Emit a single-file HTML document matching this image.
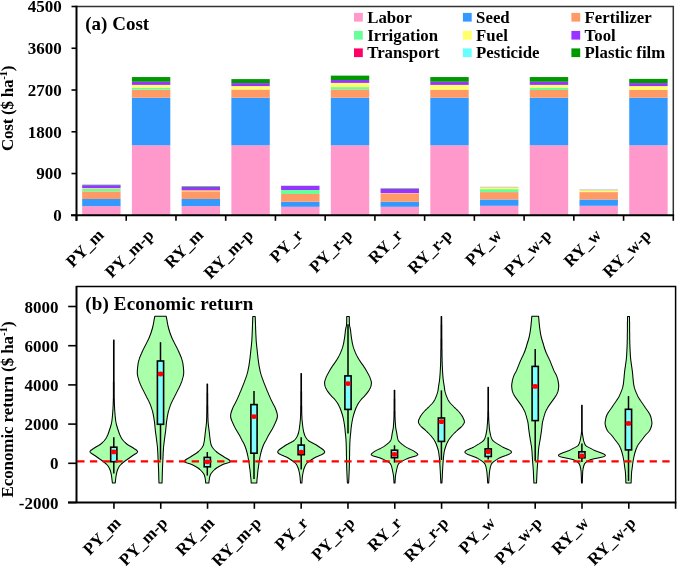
<!DOCTYPE html>
<html><head><meta charset="utf-8"><style>
html,body{margin:0;padding:0;background:#fff;width:685px;height:566px;overflow:hidden;position:relative}
</style></head><body>
<svg width="685" height="566" viewBox="0 0 685 566" style="position:absolute;left:0;top:0;will-change:transform">
<rect width="685" height="566" fill="#fff"/>
<rect x="82.17" y="206.10" width="38.40" height="9.20" fill="#FF99CC"/>
<rect x="82.17" y="199.00" width="38.40" height="7.10" fill="#3399FF"/>
<rect x="82.17" y="191.40" width="38.40" height="7.60" fill="#FF9966"/>
<rect x="82.17" y="189.00" width="38.40" height="2.40" fill="#66FF99"/>
<rect x="82.17" y="188.20" width="38.40" height="0.80" fill="#FFFF66"/>
<rect x="82.17" y="185.10" width="38.40" height="3.10" fill="#9933FF"/>
<rect x="82.17" y="184.30" width="38.40" height="0.80" fill="#88DDAA"/>
<rect x="131.90" y="145.30" width="38.40" height="70.00" fill="#FF99CC"/>
<rect x="131.90" y="97.70" width="38.40" height="47.60" fill="#3399FF"/>
<rect x="131.90" y="89.60" width="38.40" height="8.10" fill="#FF9966"/>
<rect x="131.90" y="87.80" width="38.40" height="1.80" fill="#66FF99"/>
<rect x="131.90" y="84.90" width="38.40" height="2.90" fill="#FFFF66"/>
<rect x="131.90" y="81.75" width="38.40" height="3.15" fill="#9933FF"/>
<rect x="131.90" y="77.05" width="38.40" height="4.70" fill="#009900"/>
<rect x="181.63" y="206.10" width="38.40" height="9.20" fill="#FF99CC"/>
<rect x="181.63" y="199.00" width="38.40" height="7.10" fill="#3399FF"/>
<rect x="181.63" y="191.80" width="38.40" height="7.20" fill="#FF9966"/>
<rect x="181.63" y="190.20" width="38.40" height="1.60" fill="#FFBB66"/>
<rect x="181.63" y="187.00" width="38.40" height="3.20" fill="#9933FF"/>
<rect x="181.63" y="186.10" width="38.40" height="0.90" fill="#55BB77"/>
<rect x="231.37" y="145.30" width="38.40" height="70.00" fill="#FF99CC"/>
<rect x="231.37" y="97.70" width="38.40" height="47.60" fill="#3399FF"/>
<rect x="231.37" y="89.50" width="38.40" height="8.20" fill="#FF9966"/>
<rect x="231.37" y="86.10" width="38.40" height="3.40" fill="#FFFF66"/>
<rect x="231.37" y="83.10" width="38.40" height="3.00" fill="#9933FF"/>
<rect x="231.37" y="79.10" width="38.40" height="4.00" fill="#009900"/>
<rect x="281.10" y="206.80" width="38.40" height="8.50" fill="#FF99CC"/>
<rect x="281.10" y="201.70" width="38.40" height="5.10" fill="#3399FF"/>
<rect x="281.10" y="194.00" width="38.40" height="7.70" fill="#FF9966"/>
<rect x="281.10" y="190.00" width="38.40" height="4.00" fill="#66FF99"/>
<rect x="281.10" y="185.60" width="38.40" height="4.40" fill="#9933FF"/>
<rect x="281.10" y="185.00" width="38.40" height="0.60" fill="#CCFFCC"/>
<rect x="330.83" y="145.30" width="38.40" height="70.00" fill="#FF99CC"/>
<rect x="330.83" y="97.70" width="38.40" height="47.60" fill="#3399FF"/>
<rect x="330.83" y="89.40" width="38.40" height="8.30" fill="#FF9966"/>
<rect x="330.83" y="87.10" width="38.40" height="2.30" fill="#66FF99"/>
<rect x="330.83" y="82.90" width="38.40" height="4.20" fill="#FFFF66"/>
<rect x="330.83" y="80.00" width="38.40" height="2.90" fill="#9933FF"/>
<rect x="330.83" y="75.60" width="38.40" height="4.40" fill="#009900"/>
<rect x="330.83" y="75.25" width="38.40" height="0.35" fill="#AADDAA"/>
<rect x="380.57" y="206.80" width="38.40" height="8.50" fill="#FF99CC"/>
<rect x="380.57" y="201.70" width="38.40" height="5.10" fill="#3399FF"/>
<rect x="380.57" y="193.70" width="38.40" height="8.00" fill="#FF9966"/>
<rect x="380.57" y="193.10" width="38.40" height="0.60" fill="#FFBB77"/>
<rect x="380.57" y="188.80" width="38.40" height="4.30" fill="#9933FF"/>
<rect x="380.57" y="188.10" width="38.40" height="0.70" fill="#66AA88"/>
<rect x="430.30" y="145.30" width="38.40" height="70.00" fill="#FF99CC"/>
<rect x="430.30" y="97.70" width="38.40" height="47.60" fill="#3399FF"/>
<rect x="430.30" y="89.60" width="38.40" height="8.10" fill="#FF9966"/>
<rect x="430.30" y="84.90" width="38.40" height="4.70" fill="#FFFF66"/>
<rect x="430.30" y="81.75" width="38.40" height="3.15" fill="#9933FF"/>
<rect x="430.30" y="77.05" width="38.40" height="4.70" fill="#009900"/>
<rect x="480.03" y="205.80" width="38.40" height="9.50" fill="#FF99CC"/>
<rect x="480.03" y="199.50" width="38.40" height="6.30" fill="#3399FF"/>
<rect x="480.03" y="192.10" width="38.40" height="7.40" fill="#FF9966"/>
<rect x="480.03" y="189.10" width="38.40" height="3.00" fill="#66FF99"/>
<rect x="480.03" y="187.50" width="38.40" height="1.60" fill="#FFFF66"/>
<rect x="480.03" y="186.80" width="38.40" height="0.70" fill="#CCAA88"/>
<rect x="529.77" y="145.30" width="38.40" height="70.00" fill="#FF99CC"/>
<rect x="529.77" y="97.70" width="38.40" height="47.60" fill="#3399FF"/>
<rect x="529.77" y="90.00" width="38.40" height="7.70" fill="#FF9966"/>
<rect x="529.77" y="87.80" width="38.40" height="2.20" fill="#66FF99"/>
<rect x="529.77" y="84.90" width="38.40" height="2.90" fill="#FFFF66"/>
<rect x="529.77" y="81.75" width="38.40" height="3.15" fill="#9933FF"/>
<rect x="529.77" y="77.05" width="38.40" height="4.70" fill="#009900"/>
<rect x="579.50" y="205.80" width="38.40" height="9.50" fill="#FF99CC"/>
<rect x="579.50" y="199.50" width="38.40" height="6.30" fill="#3399FF"/>
<rect x="579.50" y="192.10" width="38.40" height="7.40" fill="#FF9966"/>
<rect x="579.50" y="190.50" width="38.40" height="1.60" fill="#FFFF66"/>
<rect x="579.50" y="189.80" width="38.40" height="0.70" fill="#EEBB99"/>
<rect x="579.50" y="189.10" width="38.40" height="0.70" fill="#BBCCEE"/>
<rect x="629.23" y="145.30" width="38.40" height="70.00" fill="#FF99CC"/>
<rect x="629.23" y="97.70" width="38.40" height="47.60" fill="#3399FF"/>
<rect x="629.23" y="89.80" width="38.40" height="7.90" fill="#FF9966"/>
<rect x="629.23" y="86.10" width="38.40" height="3.70" fill="#FFFF66"/>
<rect x="629.23" y="83.10" width="38.40" height="3.00" fill="#9933FF"/>
<rect x="629.23" y="78.90" width="38.40" height="4.20" fill="#009900"/>
<path d="M76.5,6.5 H673.3 V215.3" fill="none" stroke="#333" stroke-width="1.5"/>
<path d="M76.5,5.7 V220.8" stroke="#000" stroke-width="2"/>
<path d="M71.0,215.3 H674.0999999999999" stroke="#000" stroke-width="2"/>
<path d="M71.5,215.30 H76.5" stroke="#000" stroke-width="1.6"/>
<text x="61.8" y="221.10" text-anchor="end" font-family='"Liberation Serif", serif' font-weight="bold" font-size="17">0</text>
<path d="M71.5,173.54 H76.5" stroke="#000" stroke-width="1.6"/>
<text x="61.8" y="179.34" text-anchor="end" font-family='"Liberation Serif", serif' font-weight="bold" font-size="17">900</text>
<path d="M71.5,131.78 H76.5" stroke="#000" stroke-width="1.6"/>
<text x="61.8" y="137.58" text-anchor="end" font-family='"Liberation Serif", serif' font-weight="bold" font-size="17">1800</text>
<path d="M71.5,90.02 H76.5" stroke="#000" stroke-width="1.6"/>
<text x="61.8" y="95.82" text-anchor="end" font-family='"Liberation Serif", serif' font-weight="bold" font-size="17">2700</text>
<path d="M71.5,48.26 H76.5" stroke="#000" stroke-width="1.6"/>
<text x="61.8" y="54.06" text-anchor="end" font-family='"Liberation Serif", serif' font-weight="bold" font-size="17">3600</text>
<path d="M71.5,6.50 H76.5" stroke="#000" stroke-width="1.6"/>
<text x="61.8" y="12.30" text-anchor="end" font-family='"Liberation Serif", serif' font-weight="bold" font-size="17">4500</text>
<path d="M76.50,215.3 V220.8" stroke="#000" stroke-width="1.6"/>
<path d="M126.23,215.3 V220.8" stroke="#000" stroke-width="1.6"/>
<path d="M175.97,215.3 V220.8" stroke="#000" stroke-width="1.6"/>
<path d="M225.70,215.3 V220.8" stroke="#000" stroke-width="1.6"/>
<path d="M275.43,215.3 V220.8" stroke="#000" stroke-width="1.6"/>
<path d="M325.17,215.3 V220.8" stroke="#000" stroke-width="1.6"/>
<path d="M374.90,215.3 V220.8" stroke="#000" stroke-width="1.6"/>
<path d="M424.63,215.3 V220.8" stroke="#000" stroke-width="1.6"/>
<path d="M474.37,215.3 V220.8" stroke="#000" stroke-width="1.6"/>
<path d="M524.10,215.3 V220.8" stroke="#000" stroke-width="1.6"/>
<path d="M573.83,215.3 V220.8" stroke="#000" stroke-width="1.6"/>
<path d="M623.57,215.3 V220.8" stroke="#000" stroke-width="1.6"/>
<path d="M673.30,215.3 V220.8" stroke="#000" stroke-width="1.6"/>
<text transform="translate(104.87,236.10) rotate(-45)" text-anchor="end" font-family='"Liberation Serif", serif' font-weight="bold" font-size="17">PY_m</text>
<text transform="translate(154.60,236.10) rotate(-45)" text-anchor="end" font-family='"Liberation Serif", serif' font-weight="bold" font-size="17">PY_m-p</text>
<text transform="translate(204.33,236.10) rotate(-45)" text-anchor="end" font-family='"Liberation Serif", serif' font-weight="bold" font-size="17">RY_m</text>
<text transform="translate(254.07,236.10) rotate(-45)" text-anchor="end" font-family='"Liberation Serif", serif' font-weight="bold" font-size="17">RY_m-p</text>
<text transform="translate(303.80,236.10) rotate(-45)" text-anchor="end" font-family='"Liberation Serif", serif' font-weight="bold" font-size="17">PY_r</text>
<text transform="translate(353.53,236.10) rotate(-45)" text-anchor="end" font-family='"Liberation Serif", serif' font-weight="bold" font-size="17">PY_r-p</text>
<text transform="translate(403.27,236.10) rotate(-45)" text-anchor="end" font-family='"Liberation Serif", serif' font-weight="bold" font-size="17">RY_r</text>
<text transform="translate(453.00,236.10) rotate(-45)" text-anchor="end" font-family='"Liberation Serif", serif' font-weight="bold" font-size="17">RY_r-p</text>
<text transform="translate(502.73,236.10) rotate(-45)" text-anchor="end" font-family='"Liberation Serif", serif' font-weight="bold" font-size="17">PY_w</text>
<text transform="translate(552.47,236.10) rotate(-45)" text-anchor="end" font-family='"Liberation Serif", serif' font-weight="bold" font-size="17">PY_w-p</text>
<text transform="translate(602.20,236.10) rotate(-45)" text-anchor="end" font-family='"Liberation Serif", serif' font-weight="bold" font-size="17">RY_w</text>
<text transform="translate(651.93,236.10) rotate(-45)" text-anchor="end" font-family='"Liberation Serif", serif' font-weight="bold" font-size="17">RY_w-p</text>
<text x="85.3" y="30" font-family='"Liberation Serif", serif' font-weight="bold" font-size="19">(a) Cost</text>
<text transform="translate(13.3,151.0) rotate(-90)" letter-spacing="-0.25" font-family='"Liberation Serif", serif' font-weight="bold" font-size="17">Cost ($ ha<tspan dy="-6" font-size="11">-1</tspan><tspan dy="6">)</tspan></text>
<rect x="354.0" y="12.9" width="8.8" height="8.7" fill="#FF99CC"/>
<text x="367.20" y="22.50" font-family='"Liberation Serif", serif' font-weight="bold" font-size="16.8">Labor</text>
<rect x="462.9" y="12.9" width="8.8" height="8.7" fill="#3399FF"/>
<text x="476.10" y="22.50" font-family='"Liberation Serif", serif' font-weight="bold" font-size="16.8">Seed</text>
<rect x="571.4" y="12.9" width="8.8" height="8.7" fill="#FF9966"/>
<text x="584.60" y="22.50" font-family='"Liberation Serif", serif' font-weight="bold" font-size="16.8">Fertilizer</text>
<rect x="354.0" y="30.9" width="8.8" height="8.7" fill="#66FF99"/>
<text x="367.20" y="40.50" font-family='"Liberation Serif", serif' font-weight="bold" font-size="16.8">Irrigation</text>
<rect x="462.9" y="30.9" width="8.8" height="8.7" fill="#FFFF66"/>
<text x="476.10" y="40.50" font-family='"Liberation Serif", serif' font-weight="bold" font-size="16.8">Fuel</text>
<rect x="571.4" y="30.9" width="8.8" height="8.7" fill="#9933FF"/>
<text x="584.60" y="40.50" font-family='"Liberation Serif", serif' font-weight="bold" font-size="16.8">Tool</text>
<rect x="354.0" y="48.4" width="8.8" height="8.7" fill="#FF0066"/>
<text x="367.20" y="58.00" font-family='"Liberation Serif", serif' font-weight="bold" font-size="16.8">Transport</text>
<rect x="462.9" y="48.4" width="8.8" height="8.7" fill="#66FFFF"/>
<text x="476.10" y="58.00" font-family='"Liberation Serif", serif' font-weight="bold" font-size="16.8">Pesticide</text>
<rect x="571.4" y="48.4" width="8.8" height="8.7" fill="#009900"/>
<text x="584.60" y="58.00" font-family='"Liberation Serif", serif' font-weight="bold" font-size="16.8">Plastic film</text>
<polygon points="114.1,339.9 114.1,340.4 114.1,340.9 114.1,341.4 114.1,341.9 114.1,342.4 114.1,342.9 114.1,343.4 114.1,343.9 114.1,344.4 114.1,344.9 114.1,345.4 114.1,345.9 114.1,346.4 114.1,346.9 114.1,347.4 114.1,347.9 114.1,348.4 114.1,348.9 114.1,349.4 114.1,349.9 114.1,350.4 114.1,350.9 114.1,351.4 114.1,351.9 114.1,352.4 114.1,352.9 114.1,353.4 114.1,353.9 114.1,354.4 114.1,354.9 114.1,355.4 114.1,355.9 114.1,356.4 114.1,356.9 114.1,357.4 114.1,357.9 114.1,358.4 114.1,358.9 114.1,359.4 114.1,359.9 114.1,360.4 114.1,360.9 114.1,361.4 114.1,361.9 114.1,362.4 114.1,362.9 114.1,363.4 114.1,363.9 114.1,364.4 114.1,364.9 114.1,365.4 114.1,365.9 114.1,366.4 114.1,366.9 114.1,367.4 114.1,367.9 114.1,368.4 114.1,368.9 114.1,369.4 114.1,369.9 114.1,370.4 114.1,370.9 114.1,371.4 114.1,371.9 114.1,372.4 114.1,372.9 114.1,373.4 114.1,373.9 114.1,374.4 114.1,374.9 114.1,375.4 114.1,375.9 114.1,376.4 114.1,376.9 114.1,377.4 114.1,377.9 114.1,378.4 114.1,378.9 114.1,379.4 114.1,379.9 114.1,380.4 114.1,380.9 114.1,381.4 114.2,381.9 114.2,382.4 114.2,382.9 114.2,383.4 114.2,383.9 114.2,384.4 114.2,384.9 114.2,385.4 114.2,385.9 114.2,386.4 114.2,386.9 114.2,387.4 114.2,387.9 114.2,388.4 114.2,388.9 114.2,389.4 114.2,389.9 114.2,390.4 114.2,390.9 114.2,391.4 114.2,391.9 114.2,392.4 114.2,392.9 114.2,393.4 114.2,393.9 114.2,394.4 114.2,394.9 114.2,395.4 114.2,395.9 114.2,396.4 114.2,396.9 114.2,397.4 114.2,397.9 114.2,398.4 114.3,398.9 114.3,399.4 114.3,399.9 114.3,400.4 114.3,400.9 114.3,401.4 114.3,401.9 114.4,402.4 114.4,402.9 114.4,403.4 114.4,403.9 114.4,404.4 114.4,404.9 114.5,405.4 114.5,405.9 114.5,406.4 114.5,406.9 114.6,407.4 114.6,407.9 114.6,408.4 114.6,408.9 114.7,409.4 114.7,409.9 114.7,410.4 114.8,410.9 114.8,411.4 114.8,412.0 114.9,412.5 114.9,413.0 115.0,413.5 115.0,414.0 115.0,414.5 115.1,415.0 115.1,415.5 115.2,416.0 115.2,416.5 115.3,417.0 115.3,417.5 115.4,418.0 115.4,418.5 115.5,419.0 115.5,419.5 115.6,420.0 115.7,420.5 115.7,421.0 115.8,421.5 115.9,422.0 116.0,422.5 116.1,423.0 116.2,423.5 116.3,424.0 116.4,424.5 116.5,425.0 116.7,425.5 116.8,426.0 117.0,426.5 117.1,427.0 117.3,427.5 117.4,428.0 117.6,428.5 117.8,429.0 117.9,429.5 118.1,430.0 118.3,430.5 118.4,431.0 118.6,431.5 118.8,432.0 118.9,432.5 119.1,433.0 119.3,433.5 119.5,434.0 119.7,434.5 119.9,435.0 120.2,435.5 120.4,436.0 120.6,436.5 120.9,437.0 121.1,437.5 121.4,438.0 121.7,438.5 122.0,439.0 122.4,439.5 122.8,440.0 123.2,440.5 123.6,441.0 124.1,441.5 124.6,442.0 125.1,442.5 125.7,443.0 126.2,443.5 126.8,444.0 127.5,444.5 128.2,445.0 129.0,445.5 129.9,446.0 130.8,446.5 131.7,447.0 132.5,447.5 133.3,448.0 134.0,448.5 134.8,449.0 135.5,449.5 136.3,450.0 136.9,450.5 137.3,451.0 137.6,451.5 137.6,452.0 137.2,452.5 136.7,453.0 136.0,453.5 135.2,454.0 134.4,454.5 133.6,455.0 132.8,455.5 132.1,456.0 131.4,456.5 130.7,457.0 130.0,457.5 129.3,458.0 128.6,458.5 127.9,459.0 127.2,459.5 126.4,460.0 125.7,460.5 125.0,461.0 124.4,461.5 123.7,462.0 123.1,462.5 122.6,463.0 122.0,463.5 121.4,464.0 120.9,464.5 120.4,465.0 120.0,465.5 119.6,466.0 119.2,466.5 118.9,467.0 118.6,467.5 118.4,468.0 118.1,468.5 117.9,469.0 117.7,469.5 117.5,470.0 117.3,470.5 117.2,471.0 117.0,471.5 116.9,472.0 116.8,472.5 116.7,473.0 116.5,473.5 116.4,474.0 116.3,474.5 116.3,475.0 116.2,475.5 116.1,476.0 116.0,476.5 115.9,477.0 115.9,477.5 115.8,478.0 115.7,478.5 115.7,479.0 115.6,479.5 115.6,480.0 115.5,480.5 115.4,481.0 115.4,481.5 115.3,482.0 115.3,482.5 115.2,483.0 112.4,483.0 112.3,482.5 112.3,482.0 112.2,481.5 112.2,481.0 112.1,480.5 112.0,480.0 112.0,479.5 111.9,479.0 111.9,478.5 111.8,478.0 111.7,477.5 111.7,477.0 111.6,476.5 111.5,476.0 111.4,475.5 111.3,475.0 111.3,474.5 111.2,474.0 111.1,473.5 110.9,473.0 110.8,472.5 110.7,472.0 110.6,471.5 110.4,471.0 110.3,470.5 110.1,470.0 109.9,469.5 109.7,469.0 109.5,468.5 109.2,468.0 109.0,467.5 108.7,467.0 108.4,466.5 108.0,466.0 107.6,465.5 107.2,465.0 106.7,464.5 106.2,464.0 105.6,463.5 105.0,463.0 104.5,462.5 103.9,462.0 103.2,461.5 102.6,461.0 101.9,460.5 101.2,460.0 100.4,459.5 99.7,459.0 99.0,458.5 98.3,458.0 97.6,457.5 96.9,457.0 96.2,456.5 95.5,456.0 94.8,455.5 94.0,455.0 93.2,454.5 92.4,454.0 91.6,453.5 90.9,453.0 90.4,452.5 90.0,452.0 90.0,451.5 90.3,451.0 90.7,450.5 91.3,450.0 92.1,449.5 92.8,449.0 93.6,448.5 94.3,448.0 95.1,447.5 95.9,447.0 96.8,446.5 97.7,446.0 98.6,445.5 99.4,445.0 100.1,444.5 100.8,444.0 101.4,443.5 101.9,443.0 102.5,442.5 103.0,442.0 103.5,441.5 104.0,441.0 104.4,440.5 104.8,440.0 105.2,439.5 105.6,439.0 105.9,438.5 106.2,438.0 106.5,437.5 106.7,437.0 107.0,436.5 107.2,436.0 107.4,435.5 107.7,435.0 107.9,434.5 108.1,434.0 108.3,433.5 108.5,433.0 108.7,432.5 108.8,432.0 109.0,431.5 109.2,431.0 109.3,430.5 109.5,430.0 109.7,429.5 109.8,429.0 110.0,428.5 110.2,428.0 110.3,427.5 110.5,427.0 110.6,426.5 110.8,426.0 110.9,425.5 111.1,425.0 111.2,424.5 111.3,424.0 111.4,423.5 111.5,423.0 111.6,422.5 111.7,422.0 111.8,421.5 111.9,421.0 111.9,420.5 112.0,420.0 112.1,419.5 112.1,419.0 112.2,418.5 112.2,418.0 112.3,417.5 112.3,417.0 112.4,416.5 112.4,416.0 112.5,415.5 112.5,415.0 112.6,414.5 112.6,414.0 112.6,413.5 112.7,413.0 112.7,412.5 112.8,412.0 112.8,411.4 112.8,410.9 112.9,410.4 112.9,409.9 112.9,409.4 113.0,408.9 113.0,408.4 113.0,407.9 113.0,407.4 113.1,406.9 113.1,406.4 113.1,405.9 113.1,405.4 113.2,404.9 113.2,404.4 113.2,403.9 113.2,403.4 113.2,402.9 113.2,402.4 113.3,401.9 113.3,401.4 113.3,400.9 113.3,400.4 113.3,399.9 113.3,399.4 113.3,398.9 113.4,398.4 113.4,397.9 113.4,397.4 113.4,396.9 113.4,396.4 113.4,395.9 113.4,395.4 113.4,394.9 113.4,394.4 113.4,393.9 113.4,393.4 113.4,392.9 113.4,392.4 113.4,391.9 113.4,391.4 113.4,390.9 113.4,390.4 113.4,389.9 113.4,389.4 113.4,388.9 113.4,388.4 113.4,387.9 113.4,387.4 113.4,386.9 113.4,386.4 113.4,385.9 113.4,385.4 113.4,384.9 113.4,384.4 113.4,383.9 113.4,383.4 113.4,382.9 113.4,382.4 113.4,381.9 113.5,381.4 113.5,380.9 113.5,380.4 113.5,379.9 113.5,379.4 113.5,378.9 113.5,378.4 113.5,377.9 113.5,377.4 113.5,376.9 113.5,376.4 113.5,375.9 113.5,375.4 113.5,374.9 113.5,374.4 113.5,373.9 113.5,373.4 113.5,372.9 113.5,372.4 113.5,371.9 113.5,371.4 113.5,370.9 113.5,370.4 113.5,369.9 113.5,369.4 113.5,368.9 113.5,368.4 113.5,367.9 113.5,367.4 113.5,366.9 113.5,366.4 113.5,365.9 113.5,365.4 113.5,364.9 113.5,364.4 113.5,363.9 113.5,363.4 113.5,362.9 113.5,362.4 113.5,361.9 113.5,361.4 113.5,360.9 113.5,360.4 113.5,359.9 113.5,359.4 113.5,358.9 113.5,358.4 113.5,357.9 113.5,357.4 113.5,356.9 113.5,356.4 113.5,355.9 113.5,355.4 113.5,354.9 113.5,354.4 113.5,353.9 113.5,353.4 113.5,352.9 113.5,352.4 113.5,351.9 113.5,351.4 113.5,350.9 113.5,350.4 113.5,349.9 113.5,349.4 113.5,348.9 113.5,348.4 113.5,347.9 113.5,347.4 113.5,346.9 113.5,346.4 113.5,345.9 113.5,345.4 113.5,344.9 113.5,344.4 113.5,343.9 113.5,343.4 113.5,342.9 113.5,342.4 113.5,341.9 113.5,341.4 113.5,340.9 113.5,340.4 113.5,339.9" fill="#AAFFAA" stroke="#000" stroke-width="1.05" stroke-linejoin="round"/>
<path d="M113.80,437.3 V473.6" stroke="#000" stroke-width="1.5"/>
<rect x="110.70" y="447.20" width="6.2" height="14.50" fill="#80FFFF" stroke="#000" stroke-width="1.6"/>
<ellipse cx="113.80" cy="451.9" rx="2.9" ry="2.4" fill="#FF0000"/>
<polygon points="166.2,316.3 166.3,316.8 166.4,317.3 166.5,317.8 166.6,318.3 166.7,318.8 166.8,319.3 166.9,319.8 167.0,320.3 167.1,320.8 167.2,321.3 167.2,321.8 167.3,322.3 167.4,322.8 167.5,323.3 167.6,323.8 167.7,324.3 167.8,324.8 167.9,325.3 168.0,325.8 168.1,326.3 168.2,326.8 168.4,327.3 168.5,327.8 168.6,328.3 168.7,328.8 168.9,329.3 169.0,329.8 169.2,330.3 169.3,330.8 169.5,331.3 169.6,331.8 169.8,332.3 170.0,332.8 170.1,333.3 170.3,333.8 170.5,334.3 170.7,334.8 170.9,335.3 171.1,335.8 171.3,336.3 171.5,336.8 171.7,337.3 171.9,337.8 172.1,338.3 172.3,338.8 172.6,339.3 172.8,339.8 173.1,340.3 173.3,340.8 173.5,341.3 173.8,341.8 174.1,342.3 174.3,342.8 174.6,343.3 174.8,343.8 175.1,344.3 175.3,344.8 175.6,345.3 175.8,345.8 176.1,346.3 176.4,346.8 176.6,347.3 176.9,347.8 177.1,348.3 177.4,348.8 177.6,349.3 177.9,349.8 178.1,350.3 178.3,350.8 178.6,351.3 178.8,351.8 179.0,352.3 179.2,352.8 179.4,353.3 179.7,353.8 179.9,354.3 180.1,354.8 180.3,355.3 180.5,355.8 180.7,356.3 181.0,356.8 181.2,357.3 181.4,357.8 181.6,358.4 181.7,358.9 181.9,359.4 182.0,359.9 182.2,360.4 182.3,360.9 182.4,361.4 182.5,361.9 182.7,362.4 182.8,362.9 182.9,363.4 182.9,363.9 183.0,364.4 183.1,364.9 183.1,365.4 183.2,365.9 183.3,366.4 183.3,366.9 183.4,367.4 183.4,367.9 183.5,368.4 183.5,368.9 183.6,369.4 183.6,369.9 183.6,370.4 183.7,370.9 183.7,371.4 183.7,371.9 183.7,372.4 183.7,372.9 183.7,373.4 183.6,373.9 183.6,374.4 183.5,374.9 183.4,375.4 183.3,375.9 183.2,376.4 183.1,376.9 182.9,377.4 182.8,377.9 182.6,378.4 182.5,378.9 182.4,379.4 182.2,379.9 182.1,380.4 181.9,380.9 181.8,381.4 181.6,381.9 181.4,382.4 181.2,382.9 181.0,383.4 180.8,383.9 180.6,384.4 180.4,384.9 180.1,385.4 179.9,385.9 179.7,386.4 179.4,386.9 179.2,387.4 178.9,387.9 178.7,388.4 178.4,388.9 178.1,389.4 177.9,389.9 177.6,390.4 177.4,390.9 177.1,391.4 176.9,391.9 176.6,392.4 176.4,392.9 176.1,393.4 175.9,393.9 175.6,394.4 175.4,394.9 175.1,395.4 174.9,395.9 174.7,396.4 174.4,396.9 174.1,397.4 173.9,397.9 173.6,398.4 173.3,398.9 173.1,399.4 172.8,399.9 172.6,400.4 172.3,400.9 172.1,401.4 171.9,401.9 171.6,402.4 171.4,402.9 171.2,403.4 171.0,403.9 170.8,404.4 170.6,404.9 170.4,405.4 170.2,405.9 170.0,406.4 169.9,406.9 169.7,407.4 169.5,407.9 169.4,408.4 169.2,408.9 169.0,409.4 168.9,409.9 168.7,410.4 168.6,410.9 168.4,411.4 168.3,411.9 168.2,412.4 168.1,412.9 168.0,413.4 167.9,413.9 167.8,414.4 167.7,414.9 167.6,415.4 167.5,415.9 167.4,416.4 167.3,416.9 167.2,417.4 167.2,417.9 167.1,418.4 167.0,418.9 166.9,419.4 166.8,419.9 166.8,420.4 166.7,420.9 166.6,421.4 166.5,421.9 166.5,422.4 166.4,422.9 166.4,423.4 166.3,423.9 166.2,424.4 166.2,424.9 166.2,425.4 166.1,425.9 166.1,426.4 166.0,426.9 166.0,427.4 165.9,427.9 165.9,428.4 165.8,428.9 165.8,429.4 165.7,429.9 165.7,430.4 165.6,430.9 165.6,431.4 165.5,431.9 165.4,432.4 165.4,432.9 165.3,433.4 165.2,433.9 165.2,434.4 165.1,434.9 165.0,435.4 164.9,435.9 164.9,436.4 164.8,436.9 164.7,437.4 164.7,437.9 164.6,438.4 164.6,438.9 164.5,439.4 164.4,439.9 164.4,440.4 164.3,440.9 164.2,441.5 164.2,442.0 164.1,442.5 164.0,443.0 164.0,443.5 163.9,444.0 163.9,444.5 163.8,445.0 163.7,445.5 163.7,446.0 163.6,446.5 163.6,447.0 163.5,447.5 163.5,448.0 163.5,448.5 163.4,449.0 163.4,449.5 163.4,450.0 163.3,450.5 163.3,451.0 163.3,451.5 163.2,452.0 163.2,452.5 163.2,453.0 163.2,453.5 163.1,454.0 163.1,454.5 163.1,455.0 163.1,455.5 163.1,456.0 163.0,456.5 163.0,457.0 163.0,457.5 163.0,458.0 163.0,458.5 162.9,459.0 162.9,459.5 162.9,460.0 162.9,460.5 162.8,461.0 162.8,461.5 162.8,462.0 162.8,462.5 162.7,463.0 162.7,463.5 162.7,464.0 162.7,464.5 162.6,465.0 162.6,465.5 162.6,466.0 162.6,466.5 162.5,467.0 162.5,467.5 162.5,468.0 162.5,468.5 162.5,469.0 162.4,469.5 162.4,470.0 162.4,470.5 162.4,471.0 162.4,471.5 162.3,472.0 162.3,472.5 162.3,473.0 162.3,473.5 162.3,474.0 162.3,474.5 162.3,475.0 162.3,475.5 162.2,476.0 162.2,476.5 162.2,477.0 162.2,477.5 162.2,478.0 162.2,478.5 162.2,479.0 162.2,479.5 162.1,480.0 162.1,480.5 162.1,481.0 162.1,481.5 162.1,482.0 162.0,482.5 162.0,483.0 159.0,483.0 159.0,482.5 158.9,482.0 158.9,481.5 158.9,481.0 158.9,480.5 158.9,480.0 158.8,479.5 158.8,479.0 158.8,478.5 158.8,478.0 158.8,477.5 158.8,477.0 158.8,476.5 158.8,476.0 158.7,475.5 158.7,475.0 158.7,474.5 158.7,474.0 158.7,473.5 158.7,473.0 158.7,472.5 158.7,472.0 158.6,471.5 158.6,471.0 158.6,470.5 158.6,470.0 158.6,469.5 158.5,469.0 158.5,468.5 158.5,468.0 158.5,467.5 158.5,467.0 158.4,466.5 158.4,466.0 158.4,465.5 158.4,465.0 158.3,464.5 158.3,464.0 158.3,463.5 158.3,463.0 158.2,462.5 158.2,462.0 158.2,461.5 158.2,461.0 158.1,460.5 158.1,460.0 158.1,459.5 158.1,459.0 158.0,458.5 158.0,458.0 158.0,457.5 158.0,457.0 158.0,456.5 157.9,456.0 157.9,455.5 157.9,455.0 157.9,454.5 157.9,454.0 157.8,453.5 157.8,453.0 157.8,452.5 157.8,452.0 157.7,451.5 157.7,451.0 157.7,450.5 157.6,450.0 157.6,449.5 157.6,449.0 157.5,448.5 157.5,448.0 157.5,447.5 157.4,447.0 157.4,446.5 157.3,446.0 157.3,445.5 157.2,445.0 157.1,444.5 157.1,444.0 157.0,443.5 157.0,443.0 156.9,442.5 156.8,442.0 156.8,441.5 156.7,440.9 156.6,440.4 156.6,439.9 156.5,439.4 156.4,438.9 156.4,438.4 156.3,437.9 156.3,437.4 156.2,436.9 156.1,436.4 156.1,435.9 156.0,435.4 155.9,434.9 155.8,434.4 155.8,433.9 155.7,433.4 155.6,432.9 155.6,432.4 155.5,431.9 155.4,431.4 155.4,430.9 155.3,430.4 155.3,429.9 155.2,429.4 155.2,428.9 155.1,428.4 155.1,427.9 155.0,427.4 155.0,426.9 154.9,426.4 154.9,425.9 154.8,425.4 154.8,424.9 154.8,424.4 154.7,423.9 154.6,423.4 154.6,422.9 154.5,422.4 154.5,421.9 154.4,421.4 154.3,420.9 154.2,420.4 154.2,419.9 154.1,419.4 154.0,418.9 153.9,418.4 153.8,417.9 153.8,417.4 153.7,416.9 153.6,416.4 153.5,415.9 153.4,415.4 153.3,414.9 153.2,414.4 153.1,413.9 153.0,413.4 152.9,412.9 152.8,412.4 152.7,411.9 152.6,411.4 152.4,410.9 152.3,410.4 152.1,409.9 152.0,409.4 151.8,408.9 151.6,408.4 151.5,407.9 151.3,407.4 151.1,406.9 151.0,406.4 150.8,405.9 150.6,405.4 150.4,404.9 150.2,404.4 150.0,403.9 149.8,403.4 149.6,402.9 149.4,402.4 149.1,401.9 148.9,401.4 148.7,400.9 148.4,400.4 148.2,399.9 147.9,399.4 147.7,398.9 147.4,398.4 147.1,397.9 146.9,397.4 146.6,396.9 146.3,396.4 146.1,395.9 145.9,395.4 145.6,394.9 145.4,394.4 145.1,393.9 144.9,393.4 144.6,392.9 144.4,392.4 144.1,391.9 143.9,391.4 143.6,390.9 143.4,390.4 143.1,389.9 142.9,389.4 142.6,388.9 142.3,388.4 142.1,387.9 141.8,387.4 141.6,386.9 141.3,386.4 141.1,385.9 140.9,385.4 140.6,384.9 140.4,384.4 140.2,383.9 140.0,383.4 139.8,382.9 139.6,382.4 139.4,381.9 139.2,381.4 139.1,380.9 138.9,380.4 138.8,379.9 138.6,379.4 138.5,378.9 138.4,378.4 138.2,377.9 138.1,377.4 137.9,376.9 137.8,376.4 137.7,375.9 137.6,375.4 137.5,374.9 137.4,374.4 137.4,373.9 137.3,373.4 137.3,372.9 137.3,372.4 137.3,371.9 137.3,371.4 137.3,370.9 137.4,370.4 137.4,369.9 137.4,369.4 137.5,368.9 137.5,368.4 137.6,367.9 137.6,367.4 137.7,366.9 137.7,366.4 137.8,365.9 137.9,365.4 137.9,364.9 138.0,364.4 138.1,363.9 138.1,363.4 138.2,362.9 138.3,362.4 138.5,361.9 138.6,361.4 138.7,360.9 138.8,360.4 139.0,359.9 139.1,359.4 139.3,358.9 139.4,358.4 139.6,357.8 139.8,357.3 140.0,356.8 140.3,356.3 140.5,355.8 140.7,355.3 140.9,354.8 141.1,354.3 141.3,353.8 141.6,353.3 141.8,352.8 142.0,352.3 142.2,351.8 142.4,351.3 142.7,350.8 142.9,350.3 143.1,349.8 143.4,349.3 143.6,348.8 143.9,348.3 144.1,347.8 144.4,347.3 144.6,346.8 144.9,346.3 145.2,345.8 145.4,345.3 145.7,344.8 145.9,344.3 146.2,343.8 146.4,343.3 146.7,342.8 146.9,342.3 147.2,341.8 147.5,341.3 147.7,340.8 147.9,340.3 148.2,339.8 148.4,339.3 148.7,338.8 148.9,338.3 149.1,337.8 149.3,337.3 149.5,336.8 149.7,336.3 149.9,335.8 150.1,335.3 150.3,334.8 150.5,334.3 150.7,333.8 150.9,333.3 151.0,332.8 151.2,332.3 151.4,331.8 151.5,331.3 151.7,330.8 151.8,330.3 152.0,329.8 152.1,329.3 152.3,328.8 152.4,328.3 152.5,327.8 152.6,327.3 152.8,326.8 152.9,326.3 153.0,325.8 153.1,325.3 153.2,324.8 153.3,324.3 153.4,323.8 153.5,323.3 153.6,322.8 153.7,322.3 153.8,321.8 153.8,321.3 153.9,320.8 154.0,320.3 154.1,319.8 154.2,319.3 154.3,318.8 154.4,318.3 154.5,317.8 154.6,317.3 154.7,316.8 154.8,316.3" fill="#AAFFAA" stroke="#000" stroke-width="1.05" stroke-linejoin="round"/>
<path d="M160.50,342.2 V459.8" stroke="#000" stroke-width="1.5"/>
<rect x="157.40" y="361.00" width="6.2" height="63.30" fill="#80FFFF" stroke="#000" stroke-width="1.6"/>
<ellipse cx="160.50" cy="374.0" rx="2.9" ry="2.4" fill="#FF0000"/>
<polygon points="207.6,383.9 207.6,384.4 207.6,384.9 207.6,385.4 207.6,385.9 207.6,386.4 207.6,386.9 207.6,387.4 207.6,387.9 207.6,388.4 207.6,388.9 207.6,389.4 207.6,389.9 207.6,390.4 207.6,390.9 207.6,391.4 207.6,391.9 207.6,392.4 207.6,392.9 207.7,393.4 207.7,393.9 207.7,394.4 207.7,394.9 207.7,395.4 207.7,395.9 207.7,396.4 207.7,396.9 207.7,397.4 207.7,397.9 207.7,398.4 207.7,398.9 207.7,399.4 207.7,399.9 207.7,400.4 207.7,400.9 207.7,401.4 207.7,401.9 207.7,402.4 207.7,402.9 207.7,403.4 207.7,403.9 207.7,404.4 207.7,404.9 207.7,405.4 207.8,405.9 207.8,406.4 207.8,406.9 207.8,407.4 207.8,407.9 207.8,408.4 207.8,408.9 207.8,409.4 207.8,409.9 207.8,410.4 207.8,410.9 207.8,411.4 207.8,411.9 207.8,412.4 207.8,412.9 207.8,413.4 207.9,413.9 207.9,414.4 207.9,414.9 207.9,415.4 207.9,415.9 207.9,416.4 207.9,416.9 207.9,417.4 207.9,417.9 208.0,418.4 208.0,418.9 208.0,419.4 208.0,419.9 208.0,420.4 208.0,420.9 208.1,421.4 208.1,421.9 208.1,422.4 208.2,422.9 208.2,423.4 208.3,423.9 208.3,424.4 208.4,424.9 208.4,425.4 208.5,425.9 208.5,426.4 208.6,426.9 208.7,427.4 208.7,427.9 208.8,428.4 208.9,428.9 208.9,429.4 209.0,429.9 209.1,430.4 209.1,430.9 209.2,431.4 209.2,431.9 209.3,432.4 209.4,432.9 209.4,433.4 209.5,434.0 209.5,434.5 209.6,435.0 209.6,435.5 209.7,436.0 209.7,436.5 209.8,437.0 209.9,437.5 209.9,438.0 210.0,438.5 210.0,439.0 210.1,439.5 210.2,440.0 210.2,440.5 210.3,441.0 210.4,441.5 210.5,442.0 210.6,442.5 210.7,443.0 210.8,443.5 210.9,444.0 211.0,444.5 211.2,445.0 211.4,445.5 211.6,446.0 211.9,446.5 212.2,447.0 212.5,447.5 212.9,448.0 213.3,448.5 213.7,449.0 214.2,449.5 214.6,450.0 215.1,450.5 215.6,451.0 216.1,451.5 216.7,452.0 217.3,452.5 218.0,453.0 218.7,453.5 219.5,454.0 220.3,454.5 221.1,455.0 221.9,455.5 222.7,456.0 223.5,456.5 224.2,457.0 225.0,457.5 225.9,458.0 226.8,458.5 227.7,459.0 228.5,459.5 229.2,460.0 229.8,460.5 230.1,461.0 230.3,461.5 229.9,462.0 228.9,462.5 227.4,463.0 225.7,463.5 224.1,464.0 222.8,464.5 221.8,465.0 220.9,465.5 219.9,466.0 219.0,466.5 218.2,467.0 217.3,467.5 216.6,468.0 215.9,468.5 215.3,469.0 214.7,469.5 214.2,470.0 213.7,470.5 213.2,471.0 212.7,471.5 212.3,472.0 211.9,472.5 211.5,473.0 211.1,473.5 210.8,474.0 210.5,474.5 210.3,475.0 210.1,475.5 210.0,476.0 209.9,476.5 209.7,477.0 209.6,477.5 209.5,478.0 209.4,478.5 209.4,479.0 209.3,479.5 209.2,480.0 209.1,480.5 209.1,481.0 209.0,481.5 209.0,482.0 208.9,482.5 208.9,483.0 205.7,483.0 205.7,482.5 205.6,482.0 205.6,481.5 205.5,481.0 205.5,480.5 205.4,480.0 205.3,479.5 205.2,479.0 205.2,478.5 205.1,478.0 205.0,477.5 204.9,477.0 204.7,476.5 204.6,476.0 204.5,475.5 204.3,475.0 204.1,474.5 203.8,474.0 203.5,473.5 203.1,473.0 202.7,472.5 202.3,472.0 201.9,471.5 201.4,471.0 200.9,470.5 200.4,470.0 199.9,469.5 199.3,469.0 198.7,468.5 198.0,468.0 197.3,467.5 196.4,467.0 195.6,466.5 194.7,466.0 193.7,465.5 192.8,465.0 191.8,464.5 190.5,464.0 188.9,463.5 187.2,463.0 185.7,462.5 184.7,462.0 184.3,461.5 184.5,461.0 184.8,460.5 185.4,460.0 186.1,459.5 186.9,459.0 187.8,458.5 188.7,458.0 189.6,457.5 190.4,457.0 191.1,456.5 191.9,456.0 192.7,455.5 193.5,455.0 194.3,454.5 195.1,454.0 195.9,453.5 196.6,453.0 197.3,452.5 197.9,452.0 198.5,451.5 199.0,451.0 199.5,450.5 200.0,450.0 200.4,449.5 200.9,449.0 201.3,448.5 201.7,448.0 202.1,447.5 202.4,447.0 202.7,446.5 203.0,446.0 203.2,445.5 203.4,445.0 203.6,444.5 203.7,444.0 203.8,443.5 203.9,443.0 204.0,442.5 204.1,442.0 204.2,441.5 204.3,441.0 204.4,440.5 204.4,440.0 204.5,439.5 204.6,439.0 204.6,438.5 204.7,438.0 204.7,437.5 204.8,437.0 204.9,436.5 204.9,436.0 205.0,435.5 205.0,435.0 205.1,434.5 205.1,434.0 205.2,433.4 205.2,432.9 205.3,432.4 205.4,431.9 205.4,431.4 205.5,430.9 205.5,430.4 205.6,429.9 205.7,429.4 205.7,428.9 205.8,428.4 205.9,427.9 205.9,427.4 206.0,426.9 206.1,426.4 206.1,425.9 206.2,425.4 206.2,424.9 206.3,424.4 206.3,423.9 206.4,423.4 206.4,422.9 206.5,422.4 206.5,421.9 206.5,421.4 206.6,420.9 206.6,420.4 206.6,419.9 206.6,419.4 206.6,418.9 206.6,418.4 206.7,417.9 206.7,417.4 206.7,416.9 206.7,416.4 206.7,415.9 206.7,415.4 206.7,414.9 206.7,414.4 206.7,413.9 206.8,413.4 206.8,412.9 206.8,412.4 206.8,411.9 206.8,411.4 206.8,410.9 206.8,410.4 206.8,409.9 206.8,409.4 206.8,408.9 206.8,408.4 206.8,407.9 206.8,407.4 206.8,406.9 206.8,406.4 206.8,405.9 206.9,405.4 206.9,404.9 206.9,404.4 206.9,403.9 206.9,403.4 206.9,402.9 206.9,402.4 206.9,401.9 206.9,401.4 206.9,400.9 206.9,400.4 206.9,399.9 206.9,399.4 206.9,398.9 206.9,398.4 206.9,397.9 206.9,397.4 206.9,396.9 206.9,396.4 206.9,395.9 206.9,395.4 206.9,394.9 206.9,394.4 206.9,393.9 206.9,393.4 207.0,392.9 207.0,392.4 207.0,391.9 207.0,391.4 207.0,390.9 207.0,390.4 207.0,389.9 207.0,389.4 207.0,388.9 207.0,388.4 207.0,387.9 207.0,387.4 207.0,386.9 207.0,386.4 207.0,385.9 207.0,385.4 207.0,384.9 207.0,384.4 207.0,383.9" fill="#AAFFAA" stroke="#000" stroke-width="1.05" stroke-linejoin="round"/>
<path d="M207.30,452.0 V475.6" stroke="#000" stroke-width="1.5"/>
<rect x="204.20" y="457.40" width="6.2" height="9.40" fill="#80FFFF" stroke="#000" stroke-width="1.6"/>
<ellipse cx="207.30" cy="461.8" rx="2.9" ry="2.4" fill="#FF0000"/>
<polygon points="255.2,316.4 255.2,316.9 255.2,317.4 255.3,317.9 255.3,318.4 255.3,318.9 255.3,319.4 255.3,319.9 255.3,320.4 255.4,320.9 255.4,321.4 255.4,321.9 255.4,322.4 255.4,322.9 255.5,323.4 255.5,323.9 255.5,324.4 255.5,324.9 255.5,325.4 255.5,325.9 255.6,326.4 255.6,326.9 255.6,327.4 255.6,327.9 255.6,328.4 255.6,328.9 255.7,329.4 255.7,329.9 255.7,330.4 255.7,330.9 255.7,331.4 255.8,331.9 255.8,332.4 255.8,332.9 255.8,333.4 255.8,333.9 255.9,334.4 255.9,334.9 255.9,335.4 255.9,335.9 256.0,336.4 256.0,336.9 256.0,337.4 256.0,337.9 256.1,338.4 256.1,338.9 256.1,339.4 256.1,339.9 256.2,340.4 256.2,340.9 256.2,341.4 256.3,341.9 256.3,342.4 256.4,342.9 256.4,343.4 256.5,343.9 256.5,344.4 256.6,344.9 256.6,345.4 256.7,345.9 256.7,346.4 256.8,346.9 256.8,347.4 256.9,347.9 257.0,348.4 257.0,348.9 257.1,349.4 257.1,349.9 257.2,350.4 257.2,350.9 257.3,351.4 257.3,351.9 257.4,352.4 257.4,352.9 257.5,353.4 257.5,353.9 257.6,354.4 257.7,354.9 257.7,355.4 257.8,355.9 257.8,356.4 257.9,356.9 257.9,357.4 258.0,357.9 258.0,358.4 258.1,358.9 258.2,359.4 258.2,359.9 258.3,360.4 258.4,360.9 258.4,361.4 258.5,361.9 258.6,362.4 258.6,362.9 258.7,363.4 258.8,363.9 258.9,364.4 259.0,364.9 259.0,365.4 259.1,365.9 259.2,366.4 259.3,366.9 259.4,367.4 259.5,367.9 259.6,368.4 259.7,368.9 259.8,369.4 259.9,369.9 260.0,370.4 260.1,370.9 260.2,371.4 260.3,371.9 260.5,372.4 260.6,372.9 260.7,373.4 260.9,373.9 261.0,374.4 261.2,374.9 261.3,375.4 261.5,375.9 261.6,376.4 261.8,376.9 262.0,377.4 262.2,377.9 262.3,378.4 262.5,378.9 262.7,379.4 262.9,379.9 263.1,380.4 263.3,380.9 263.4,381.4 263.6,381.9 263.8,382.4 264.0,382.9 264.2,383.4 264.4,383.9 264.6,384.4 264.8,384.9 265.0,385.4 265.2,385.9 265.4,386.4 265.6,386.9 265.8,387.4 266.0,387.9 266.2,388.4 266.4,388.9 266.6,389.4 266.8,389.9 267.0,390.4 267.2,390.9 267.4,391.4 267.7,391.9 267.9,392.4 268.1,392.9 268.3,393.4 268.5,393.9 268.7,394.4 268.9,394.9 269.2,395.4 269.4,395.9 269.6,396.4 269.8,396.9 270.0,397.4 270.3,397.9 270.5,398.4 270.7,398.9 271.0,399.4 271.2,400.0 271.5,400.5 271.7,401.0 272.0,401.5 272.2,402.0 272.5,402.5 272.7,403.0 273.0,403.5 273.2,404.0 273.5,404.5 273.8,405.0 274.0,405.5 274.3,406.0 274.6,406.5 274.8,407.0 275.0,407.5 275.3,408.0 275.4,408.5 275.6,409.0 275.8,409.5 276.0,410.0 276.2,410.5 276.3,411.0 276.5,411.5 276.7,412.0 276.8,412.5 277.0,413.0 277.1,413.5 277.2,414.0 277.3,414.5 277.3,415.0 277.4,415.5 277.4,416.0 277.4,416.5 277.3,417.0 277.3,417.5 277.2,418.0 277.0,418.5 276.9,419.0 276.7,419.5 276.5,420.0 276.3,420.5 276.1,421.0 275.9,421.5 275.6,422.0 275.4,422.5 275.2,423.0 275.0,423.5 274.7,424.0 274.5,424.5 274.3,425.0 274.1,425.5 273.8,426.0 273.6,426.5 273.3,427.0 273.1,427.5 272.8,428.0 272.5,428.5 272.3,429.0 272.0,429.5 271.7,430.0 271.4,430.5 271.1,431.0 270.8,431.5 270.5,432.0 270.2,432.5 269.9,433.0 269.6,433.5 269.3,434.0 269.0,434.5 268.7,435.0 268.4,435.5 268.1,436.0 267.9,436.5 267.6,437.0 267.4,437.5 267.1,438.0 266.9,438.5 266.6,439.0 266.4,439.5 266.1,440.0 265.9,440.5 265.6,441.0 265.3,441.5 265.0,442.0 264.7,442.5 264.4,443.0 264.2,443.5 263.9,444.0 263.7,444.5 263.5,445.0 263.3,445.5 263.1,446.0 262.9,446.5 262.7,447.0 262.5,447.5 262.4,448.0 262.2,448.5 262.0,449.0 261.9,449.5 261.7,450.0 261.6,450.5 261.4,451.0 261.3,451.5 261.1,452.0 261.0,452.5 260.9,453.0 260.8,453.5 260.6,454.0 260.5,454.5 260.4,455.0 260.3,455.5 260.2,456.0 260.1,456.5 260.0,457.0 259.9,457.5 259.8,458.0 259.7,458.5 259.7,459.0 259.6,459.5 259.5,460.0 259.4,460.5 259.3,461.0 259.2,461.5 259.1,462.0 259.0,462.5 259.0,463.0 258.9,463.5 258.8,464.0 258.8,464.5 258.7,465.0 258.6,465.5 258.6,466.0 258.5,466.5 258.4,467.0 258.4,467.5 258.3,468.0 258.2,468.5 258.1,469.0 258.1,469.5 258.0,470.0 257.9,470.5 257.9,471.0 257.8,471.5 257.8,472.0 257.7,472.5 257.7,473.0 257.7,473.5 257.6,474.0 257.6,474.5 257.5,475.0 257.5,475.5 257.4,476.0 257.4,476.5 257.3,477.0 257.2,477.5 257.2,478.0 257.1,478.5 257.1,479.0 257.0,479.5 257.0,480.0 256.9,480.5 256.9,481.0 256.9,481.5 256.9,482.0 256.8,482.5 256.8,483.0 251.2,483.0 251.2,482.5 251.1,482.0 251.1,481.5 251.1,481.0 251.1,480.5 251.0,480.0 251.0,479.5 250.9,479.0 250.9,478.5 250.8,478.0 250.8,477.5 250.7,477.0 250.6,476.5 250.6,476.0 250.5,475.5 250.5,475.0 250.4,474.5 250.4,474.0 250.3,473.5 250.3,473.0 250.3,472.5 250.2,472.0 250.2,471.5 250.1,471.0 250.1,470.5 250.0,470.0 249.9,469.5 249.9,469.0 249.8,468.5 249.7,468.0 249.6,467.5 249.6,467.0 249.5,466.5 249.4,466.0 249.4,465.5 249.3,465.0 249.2,464.5 249.2,464.0 249.1,463.5 249.0,463.0 249.0,462.5 248.9,462.0 248.8,461.5 248.7,461.0 248.6,460.5 248.5,460.0 248.4,459.5 248.3,459.0 248.3,458.5 248.2,458.0 248.1,457.5 248.0,457.0 247.9,456.5 247.8,456.0 247.7,455.5 247.6,455.0 247.5,454.5 247.4,454.0 247.2,453.5 247.1,453.0 247.0,452.5 246.9,452.0 246.7,451.5 246.6,451.0 246.4,450.5 246.3,450.0 246.1,449.5 246.0,449.0 245.8,448.5 245.6,448.0 245.5,447.5 245.3,447.0 245.1,446.5 244.9,446.0 244.7,445.5 244.5,445.0 244.3,444.5 244.1,444.0 243.8,443.5 243.6,443.0 243.3,442.5 243.0,442.0 242.7,441.5 242.4,441.0 242.1,440.5 241.9,440.0 241.6,439.5 241.4,439.0 241.1,438.5 240.9,438.0 240.6,437.5 240.4,437.0 240.1,436.5 239.9,436.0 239.6,435.5 239.3,435.0 239.0,434.5 238.7,434.0 238.4,433.5 238.1,433.0 237.8,432.5 237.5,432.0 237.2,431.5 236.9,431.0 236.6,430.5 236.3,430.0 236.0,429.5 235.7,429.0 235.5,428.5 235.2,428.0 234.9,427.5 234.7,427.0 234.4,426.5 234.2,426.0 233.9,425.5 233.7,425.0 233.5,424.5 233.3,424.0 233.0,423.5 232.8,423.0 232.6,422.5 232.4,422.0 232.1,421.5 231.9,421.0 231.7,420.5 231.5,420.0 231.3,419.5 231.1,419.0 231.0,418.5 230.8,418.0 230.7,417.5 230.7,417.0 230.6,416.5 230.6,416.0 230.6,415.5 230.7,415.0 230.7,414.5 230.8,414.0 230.9,413.5 231.0,413.0 231.2,412.5 231.3,412.0 231.5,411.5 231.7,411.0 231.8,410.5 232.0,410.0 232.2,409.5 232.4,409.0 232.6,408.5 232.7,408.0 233.0,407.5 233.2,407.0 233.4,406.5 233.7,406.0 234.0,405.5 234.2,405.0 234.5,404.5 234.8,404.0 235.0,403.5 235.3,403.0 235.5,402.5 235.8,402.0 236.0,401.5 236.3,401.0 236.5,400.5 236.8,400.0 237.0,399.4 237.3,398.9 237.5,398.4 237.7,397.9 238.0,397.4 238.2,396.9 238.4,396.4 238.6,395.9 238.8,395.4 239.1,394.9 239.3,394.4 239.5,393.9 239.7,393.4 239.9,392.9 240.1,392.4 240.3,391.9 240.6,391.4 240.8,390.9 241.0,390.4 241.2,389.9 241.4,389.4 241.6,388.9 241.8,388.4 242.0,387.9 242.2,387.4 242.4,386.9 242.6,386.4 242.8,385.9 243.0,385.4 243.2,384.9 243.4,384.4 243.6,383.9 243.8,383.4 244.0,382.9 244.2,382.4 244.4,381.9 244.6,381.4 244.7,380.9 244.9,380.4 245.1,379.9 245.3,379.4 245.5,378.9 245.7,378.4 245.8,377.9 246.0,377.4 246.2,376.9 246.4,376.4 246.5,375.9 246.7,375.4 246.8,374.9 247.0,374.4 247.1,373.9 247.3,373.4 247.4,372.9 247.5,372.4 247.7,371.9 247.8,371.4 247.9,370.9 248.0,370.4 248.1,369.9 248.2,369.4 248.3,368.9 248.4,368.4 248.5,367.9 248.6,367.4 248.7,366.9 248.8,366.4 248.9,365.9 249.0,365.4 249.0,364.9 249.1,364.4 249.2,363.9 249.3,363.4 249.4,362.9 249.4,362.4 249.5,361.9 249.6,361.4 249.6,360.9 249.7,360.4 249.8,359.9 249.8,359.4 249.9,358.9 250.0,358.4 250.0,357.9 250.1,357.4 250.1,356.9 250.2,356.4 250.2,355.9 250.3,355.4 250.3,354.9 250.4,354.4 250.5,353.9 250.5,353.4 250.6,352.9 250.6,352.4 250.7,351.9 250.7,351.4 250.8,350.9 250.8,350.4 250.9,349.9 250.9,349.4 251.0,348.9 251.0,348.4 251.1,347.9 251.2,347.4 251.2,346.9 251.3,346.4 251.3,345.9 251.4,345.4 251.4,344.9 251.5,344.4 251.5,343.9 251.6,343.4 251.6,342.9 251.7,342.4 251.7,341.9 251.8,341.4 251.8,340.9 251.8,340.4 251.9,339.9 251.9,339.4 251.9,338.9 251.9,338.4 252.0,337.9 252.0,337.4 252.0,336.9 252.0,336.4 252.1,335.9 252.1,335.4 252.1,334.9 252.1,334.4 252.2,333.9 252.2,333.4 252.2,332.9 252.2,332.4 252.2,331.9 252.3,331.4 252.3,330.9 252.3,330.4 252.3,329.9 252.3,329.4 252.4,328.9 252.4,328.4 252.4,327.9 252.4,327.4 252.4,326.9 252.4,326.4 252.5,325.9 252.5,325.4 252.5,324.9 252.5,324.4 252.5,323.9 252.5,323.4 252.6,322.9 252.6,322.4 252.6,321.9 252.6,321.4 252.6,320.9 252.7,320.4 252.7,319.9 252.7,319.4 252.7,318.9 252.7,318.4 252.7,317.9 252.8,317.4 252.8,316.9 252.8,316.4" fill="#AAFFAA" stroke="#000" stroke-width="1.05" stroke-linejoin="round"/>
<path d="M254.00,391.1 V478.9" stroke="#000" stroke-width="1.5"/>
<rect x="250.90" y="404.60" width="6.2" height="48.60" fill="#80FFFF" stroke="#000" stroke-width="1.6"/>
<ellipse cx="254.00" cy="416.6" rx="2.9" ry="2.4" fill="#FF0000"/>
<polygon points="301.5,373.5 301.5,374.0 301.5,374.5 301.5,375.0 301.5,375.5 301.5,376.0 301.5,376.5 301.5,377.0 301.5,377.5 301.5,378.0 301.5,378.5 301.5,379.0 301.5,379.5 301.5,380.0 301.5,380.5 301.5,381.0 301.5,381.5 301.5,382.0 301.5,382.5 301.5,383.0 301.5,383.5 301.5,384.0 301.5,384.5 301.5,385.0 301.5,385.5 301.5,386.0 301.5,386.5 301.5,387.0 301.5,387.5 301.5,388.0 301.5,388.5 301.5,389.0 301.5,389.5 301.5,390.0 301.5,390.5 301.5,391.0 301.6,391.5 301.6,392.0 301.6,392.5 301.6,393.0 301.6,393.5 301.6,394.0 301.6,394.5 301.6,395.0 301.6,395.5 301.6,396.0 301.6,396.5 301.6,397.0 301.6,397.5 301.6,398.0 301.6,398.5 301.6,399.0 301.6,399.5 301.6,400.0 301.6,400.5 301.6,401.0 301.6,401.5 301.6,402.0 301.6,402.5 301.6,403.0 301.6,403.5 301.6,404.0 301.6,404.5 301.6,405.0 301.6,405.5 301.7,406.0 301.7,406.5 301.7,407.0 301.7,407.5 301.7,408.0 301.7,408.5 301.7,409.0 301.7,409.5 301.7,410.0 301.7,410.5 301.7,411.0 301.7,411.5 301.7,412.0 301.7,412.5 301.8,413.0 301.8,413.5 301.8,414.0 301.8,414.5 301.8,415.0 301.8,415.5 301.8,416.0 301.9,416.5 301.9,417.0 301.9,417.5 301.9,418.0 302.0,418.5 302.0,419.0 302.0,419.5 302.1,420.0 302.1,420.5 302.2,421.0 302.2,421.5 302.3,422.0 302.3,422.5 302.4,423.0 302.4,423.5 302.5,424.0 302.5,424.5 302.6,425.0 302.7,425.5 302.7,426.0 302.8,426.5 302.8,427.0 302.9,427.5 303.0,428.0 303.1,428.5 303.1,429.0 303.2,429.5 303.3,430.0 303.4,430.5 303.5,431.0 303.6,431.5 303.7,432.0 303.8,432.5 304.0,433.0 304.1,433.5 304.3,434.0 304.4,434.5 304.6,435.0 304.8,435.5 305.1,436.0 305.3,436.5 305.6,437.0 305.9,437.5 306.2,438.0 306.6,438.5 306.9,439.0 307.3,439.5 307.8,440.0 308.3,440.5 309.0,441.0 309.8,441.5 310.7,442.0 311.6,442.5 312.6,443.0 313.6,443.5 314.5,444.0 315.5,444.5 316.3,445.0 317.1,445.5 317.8,446.0 318.5,446.5 319.3,447.0 320.0,447.5 320.8,448.0 321.5,448.5 322.2,449.0 322.9,449.5 323.5,450.0 324.0,450.5 324.3,451.0 324.6,451.5 324.7,452.0 324.6,452.5 324.2,453.0 323.6,453.5 322.8,454.0 321.9,454.5 320.8,455.0 319.6,455.5 318.5,456.0 317.3,456.5 316.1,457.0 315.1,457.5 314.2,458.0 313.4,458.5 312.7,459.0 311.9,459.5 311.1,460.0 310.4,460.5 309.7,461.0 309.0,461.5 308.3,462.0 307.7,462.5 307.2,463.0 306.7,463.5 306.3,464.0 305.9,464.5 305.6,465.0 305.4,465.5 305.1,466.0 304.9,466.5 304.7,467.0 304.5,467.5 304.3,468.0 304.1,468.5 303.9,469.0 303.8,469.5 303.7,470.0 303.5,470.5 303.4,471.0 303.3,471.5 303.2,472.0 303.1,472.5 303.0,473.0 302.9,473.5 302.8,474.0 302.7,474.5 302.6,475.0 302.6,475.5 302.5,476.0 302.4,476.5 302.4,477.0 302.3,477.5 302.3,478.0 302.2,478.5 302.2,479.0 302.2,479.5 302.1,480.0 302.1,480.5 302.0,481.0 302.0,481.5 302.0,482.0 301.9,482.5 301.9,483.0 300.5,483.0 300.5,482.5 300.4,482.0 300.4,481.5 300.4,481.0 300.3,480.5 300.3,480.0 300.2,479.5 300.2,479.0 300.2,478.5 300.1,478.0 300.1,477.5 300.0,477.0 300.0,476.5 299.9,476.0 299.8,475.5 299.8,475.0 299.7,474.5 299.6,474.0 299.5,473.5 299.4,473.0 299.3,472.5 299.2,472.0 299.1,471.5 299.0,471.0 298.9,470.5 298.7,470.0 298.6,469.5 298.5,469.0 298.3,468.5 298.1,468.0 297.9,467.5 297.7,467.0 297.5,466.5 297.3,466.0 297.0,465.5 296.8,465.0 296.5,464.5 296.1,464.0 295.7,463.5 295.2,463.0 294.7,462.5 294.1,462.0 293.4,461.5 292.7,461.0 292.0,460.5 291.3,460.0 290.5,459.5 289.7,459.0 289.0,458.5 288.2,458.0 287.3,457.5 286.3,457.0 285.1,456.5 283.9,456.0 282.8,455.5 281.6,455.0 280.5,454.5 279.6,454.0 278.8,453.5 278.2,453.0 277.8,452.5 277.7,452.0 277.8,451.5 278.1,451.0 278.4,450.5 278.9,450.0 279.5,449.5 280.2,449.0 280.9,448.5 281.6,448.0 282.4,447.5 283.1,447.0 283.9,446.5 284.6,446.0 285.3,445.5 286.1,445.0 286.9,444.5 287.9,444.0 288.8,443.5 289.8,443.0 290.8,442.5 291.7,442.0 292.6,441.5 293.4,441.0 294.1,440.5 294.6,440.0 295.1,439.5 295.5,439.0 295.8,438.5 296.2,438.0 296.5,437.5 296.8,437.0 297.1,436.5 297.3,436.0 297.6,435.5 297.8,435.0 298.0,434.5 298.1,434.0 298.3,433.5 298.4,433.0 298.6,432.5 298.7,432.0 298.8,431.5 298.9,431.0 299.0,430.5 299.1,430.0 299.2,429.5 299.3,429.0 299.3,428.5 299.4,428.0 299.5,427.5 299.6,427.0 299.6,426.5 299.7,426.0 299.7,425.5 299.8,425.0 299.9,424.5 299.9,424.0 300.0,423.5 300.0,423.0 300.1,422.5 300.1,422.0 300.2,421.5 300.2,421.0 300.3,420.5 300.3,420.0 300.4,419.5 300.4,419.0 300.4,418.5 300.5,418.0 300.5,417.5 300.5,417.0 300.5,416.5 300.6,416.0 300.6,415.5 300.6,415.0 300.6,414.5 300.6,414.0 300.6,413.5 300.6,413.0 300.7,412.5 300.7,412.0 300.7,411.5 300.7,411.0 300.7,410.5 300.7,410.0 300.7,409.5 300.7,409.0 300.7,408.5 300.7,408.0 300.7,407.5 300.7,407.0 300.7,406.5 300.7,406.0 300.8,405.5 300.8,405.0 300.8,404.5 300.8,404.0 300.8,403.5 300.8,403.0 300.8,402.5 300.8,402.0 300.8,401.5 300.8,401.0 300.8,400.5 300.8,400.0 300.8,399.5 300.8,399.0 300.8,398.5 300.8,398.0 300.8,397.5 300.8,397.0 300.8,396.5 300.8,396.0 300.8,395.5 300.8,395.0 300.8,394.5 300.8,394.0 300.8,393.5 300.8,393.0 300.8,392.5 300.8,392.0 300.8,391.5 300.9,391.0 300.9,390.5 300.9,390.0 300.9,389.5 300.9,389.0 300.9,388.5 300.9,388.0 300.9,387.5 300.9,387.0 300.9,386.5 300.9,386.0 300.9,385.5 300.9,385.0 300.9,384.5 300.9,384.0 300.9,383.5 300.9,383.0 300.9,382.5 300.9,382.0 300.9,381.5 300.9,381.0 300.9,380.5 300.9,380.0 300.9,379.5 300.9,379.0 300.9,378.5 300.9,378.0 300.9,377.5 300.9,377.0 300.9,376.5 300.9,376.0 300.9,375.5 300.9,375.0 300.9,374.5 300.9,374.0 300.9,373.5" fill="#AAFFAA" stroke="#000" stroke-width="1.05" stroke-linejoin="round"/>
<path d="M301.20,437.2 V469.4" stroke="#000" stroke-width="1.5"/>
<rect x="298.10" y="445.10" width="6.2" height="9.60" fill="#80FFFF" stroke="#000" stroke-width="1.6"/>
<ellipse cx="301.20" cy="452.1" rx="2.9" ry="2.4" fill="#FF0000"/>
<polygon points="349.2,316.4 349.3,316.9 349.3,317.4 349.3,317.9 349.3,318.4 349.3,318.9 349.3,319.4 349.3,319.9 349.3,320.4 349.3,320.9 349.3,321.4 349.3,321.9 349.4,322.4 349.4,322.9 349.4,323.4 349.4,323.9 349.4,324.4 349.5,324.9 349.5,325.4 349.6,325.9 349.7,326.4 349.9,326.9 350.0,327.4 350.1,327.9 350.2,328.4 350.3,328.9 350.4,329.4 350.5,329.9 350.6,330.4 350.6,330.9 350.7,331.4 350.7,331.9 350.8,332.4 350.8,332.9 350.9,333.4 350.9,333.9 351.0,334.4 351.1,334.9 351.1,335.4 351.2,335.9 351.2,336.4 351.3,336.9 351.4,337.4 351.5,337.9 351.5,338.4 351.6,338.9 351.7,339.4 351.8,339.9 351.9,340.4 352.0,340.9 352.0,341.4 352.1,341.9 352.2,342.4 352.3,342.9 352.4,343.4 352.5,343.9 352.6,344.4 352.8,344.9 352.9,345.4 353.0,345.9 353.1,346.4 353.3,346.9 353.4,347.4 353.6,347.9 353.8,348.4 353.9,348.9 354.1,349.4 354.3,349.9 354.5,350.4 354.7,350.9 354.9,351.4 355.1,351.9 355.3,352.4 355.5,352.9 355.8,353.4 356.0,353.9 356.2,354.4 356.5,354.9 356.7,355.4 357.0,355.9 357.3,356.4 357.5,356.9 357.8,357.4 358.1,357.9 358.4,358.4 358.7,358.9 359.0,359.4 359.3,359.9 359.6,360.4 359.9,360.9 360.3,361.4 360.6,361.9 360.9,362.4 361.3,362.9 361.6,363.4 362.0,363.9 362.3,364.4 362.7,364.9 363.1,365.4 363.4,365.9 363.8,366.4 364.1,366.9 364.4,367.4 364.7,367.9 365.1,368.4 365.4,368.9 365.7,369.4 366.0,369.9 366.3,370.4 366.6,370.9 366.9,371.4 367.1,371.9 367.4,372.4 367.7,372.9 368.0,373.4 368.2,373.9 368.5,374.4 368.8,374.9 369.0,375.4 369.3,375.9 369.5,376.4 369.7,376.9 369.9,377.4 370.1,377.9 370.3,378.4 370.4,378.9 370.6,379.4 370.8,379.9 371.0,380.4 371.1,380.9 371.2,381.4 371.3,381.9 371.4,382.4 371.4,382.9 371.4,383.4 371.3,383.9 371.3,384.4 371.2,384.9 371.1,385.4 371.0,385.9 370.9,386.4 370.7,386.9 370.5,387.4 370.3,387.9 370.0,388.4 369.7,388.9 369.5,389.4 369.2,389.9 368.9,390.4 368.6,390.9 368.3,391.4 367.9,391.9 367.6,392.4 367.2,392.9 366.8,393.4 366.4,393.9 366.0,394.4 365.5,394.9 365.1,395.4 364.7,395.9 364.2,396.4 363.8,396.9 363.3,397.4 362.7,397.9 362.2,398.4 361.7,398.9 361.2,399.4 360.8,400.0 360.3,400.5 360.0,401.0 359.6,401.5 359.3,402.0 358.9,402.5 358.6,403.0 358.3,403.5 358.0,404.0 357.7,404.5 357.4,405.0 357.2,405.5 356.9,406.0 356.7,406.5 356.5,407.0 356.2,407.5 356.0,408.0 355.8,408.5 355.6,409.0 355.4,409.5 355.2,410.0 355.1,410.5 354.9,411.0 354.7,411.5 354.5,412.0 354.4,412.5 354.2,413.0 354.1,413.5 353.9,414.0 353.7,414.5 353.6,415.0 353.5,415.5 353.3,416.0 353.2,416.5 353.1,417.0 352.9,417.5 352.8,418.0 352.7,418.5 352.6,419.0 352.5,419.5 352.4,420.0 352.3,420.5 352.2,421.0 352.1,421.5 352.0,422.0 351.9,422.5 351.9,423.0 351.8,423.5 351.7,424.0 351.6,424.5 351.5,425.0 351.5,425.5 351.4,426.0 351.3,426.5 351.3,427.0 351.2,427.5 351.1,428.0 351.1,428.5 351.0,429.0 351.0,429.5 350.9,430.0 350.9,430.5 350.9,431.0 350.8,431.5 350.8,432.0 350.7,432.5 350.7,433.0 350.6,433.5 350.6,434.0 350.5,434.5 350.5,435.0 350.4,435.5 350.3,436.0 350.3,436.5 350.2,437.0 350.2,437.5 350.2,438.0 350.1,438.5 350.1,439.0 350.0,439.5 350.0,440.0 350.0,440.5 350.0,441.0 349.9,441.5 349.9,442.0 349.9,442.5 349.9,443.0 349.8,443.5 349.8,444.0 349.8,444.5 349.8,445.0 349.8,445.5 349.8,446.0 349.7,446.5 349.7,447.0 349.7,447.5 349.7,448.0 349.7,448.5 349.7,449.0 349.7,449.5 349.7,450.0 349.6,450.5 349.6,451.0 349.6,451.5 349.6,452.0 349.6,452.5 349.6,453.0 349.6,453.5 349.6,454.0 349.6,454.5 349.6,455.0 349.6,455.5 349.6,456.0 349.5,456.5 349.5,457.0 349.5,457.5 349.5,458.0 349.5,458.5 349.5,459.0 349.5,459.5 349.5,460.0 349.5,460.5 349.5,461.0 349.5,461.5 349.4,462.0 349.4,462.5 349.4,463.0 349.4,463.5 349.4,464.0 349.4,464.5 349.4,465.0 349.3,465.5 349.3,466.0 349.3,466.5 349.3,467.0 349.3,467.5 349.3,468.0 349.3,468.5 349.2,469.0 349.2,469.5 349.2,470.0 349.2,470.5 349.2,471.0 349.1,471.5 349.1,472.0 349.1,472.5 349.1,473.0 349.1,473.5 349.0,474.0 349.0,474.5 349.0,475.0 349.0,475.5 349.0,476.0 348.9,476.5 348.9,477.0 348.9,477.5 348.9,478.0 348.8,478.5 348.8,479.0 348.8,479.5 348.8,480.0 348.7,480.5 348.7,481.0 348.7,481.5 348.7,482.0 348.6,482.5 348.6,483.0 347.4,483.0 347.4,482.5 347.3,482.0 347.3,481.5 347.3,481.0 347.3,480.5 347.2,480.0 347.2,479.5 347.2,479.0 347.2,478.5 347.1,478.0 347.1,477.5 347.1,477.0 347.1,476.5 347.0,476.0 347.0,475.5 347.0,475.0 347.0,474.5 347.0,474.0 346.9,473.5 346.9,473.0 346.9,472.5 346.9,472.0 346.9,471.5 346.8,471.0 346.8,470.5 346.8,470.0 346.8,469.5 346.8,469.0 346.7,468.5 346.7,468.0 346.7,467.5 346.7,467.0 346.7,466.5 346.7,466.0 346.7,465.5 346.6,465.0 346.6,464.5 346.6,464.0 346.6,463.5 346.6,463.0 346.6,462.5 346.6,462.0 346.5,461.5 346.5,461.0 346.5,460.5 346.5,460.0 346.5,459.5 346.5,459.0 346.5,458.5 346.5,458.0 346.5,457.5 346.5,457.0 346.5,456.5 346.4,456.0 346.4,455.5 346.4,455.0 346.4,454.5 346.4,454.0 346.4,453.5 346.4,453.0 346.4,452.5 346.4,452.0 346.4,451.5 346.4,451.0 346.4,450.5 346.3,450.0 346.3,449.5 346.3,449.0 346.3,448.5 346.3,448.0 346.3,447.5 346.3,447.0 346.3,446.5 346.2,446.0 346.2,445.5 346.2,445.0 346.2,444.5 346.2,444.0 346.2,443.5 346.1,443.0 346.1,442.5 346.1,442.0 346.1,441.5 346.0,441.0 346.0,440.5 346.0,440.0 346.0,439.5 345.9,439.0 345.9,438.5 345.8,438.0 345.8,437.5 345.8,437.0 345.7,436.5 345.7,436.0 345.6,435.5 345.5,435.0 345.5,434.5 345.4,434.0 345.4,433.5 345.3,433.0 345.3,432.5 345.2,432.0 345.2,431.5 345.1,431.0 345.1,430.5 345.1,430.0 345.0,429.5 345.0,429.0 344.9,428.5 344.9,428.0 344.8,427.5 344.7,427.0 344.7,426.5 344.6,426.0 344.5,425.5 344.5,425.0 344.4,424.5 344.3,424.0 344.2,423.5 344.1,423.0 344.1,422.5 344.0,422.0 343.9,421.5 343.8,421.0 343.7,420.5 343.6,420.0 343.5,419.5 343.4,419.0 343.3,418.5 343.2,418.0 343.1,417.5 342.9,417.0 342.8,416.5 342.7,416.0 342.5,415.5 342.4,415.0 342.3,414.5 342.1,414.0 341.9,413.5 341.8,413.0 341.6,412.5 341.5,412.0 341.3,411.5 341.1,411.0 340.9,410.5 340.8,410.0 340.6,409.5 340.4,409.0 340.2,408.5 340.0,408.0 339.8,407.5 339.5,407.0 339.3,406.5 339.1,406.0 338.8,405.5 338.6,405.0 338.3,404.5 338.0,404.0 337.7,403.5 337.4,403.0 337.1,402.5 336.7,402.0 336.4,401.5 336.0,401.0 335.7,400.5 335.2,400.0 334.8,399.4 334.3,398.9 333.8,398.4 333.3,397.9 332.7,397.4 332.2,396.9 331.8,396.4 331.3,395.9 330.9,395.4 330.5,394.9 330.0,394.4 329.6,393.9 329.2,393.4 328.8,392.9 328.4,392.4 328.1,391.9 327.7,391.4 327.4,390.9 327.1,390.4 326.8,389.9 326.5,389.4 326.3,388.9 326.0,388.4 325.7,387.9 325.5,387.4 325.3,386.9 325.1,386.4 325.0,385.9 324.9,385.4 324.8,384.9 324.7,384.4 324.7,383.9 324.6,383.4 324.6,382.9 324.6,382.4 324.7,381.9 324.8,381.4 324.9,380.9 325.0,380.4 325.2,379.9 325.4,379.4 325.6,378.9 325.7,378.4 325.9,377.9 326.1,377.4 326.3,376.9 326.5,376.4 326.7,375.9 327.0,375.4 327.2,374.9 327.5,374.4 327.8,373.9 328.0,373.4 328.3,372.9 328.6,372.4 328.9,371.9 329.1,371.4 329.4,370.9 329.7,370.4 330.0,369.9 330.3,369.4 330.6,368.9 330.9,368.4 331.3,367.9 331.6,367.4 331.9,366.9 332.2,366.4 332.6,365.9 332.9,365.4 333.3,364.9 333.7,364.4 334.0,363.9 334.4,363.4 334.7,362.9 335.1,362.4 335.4,361.9 335.7,361.4 336.1,360.9 336.4,360.4 336.7,359.9 337.0,359.4 337.3,358.9 337.6,358.4 337.9,357.9 338.2,357.4 338.5,356.9 338.7,356.4 339.0,355.9 339.3,355.4 339.5,354.9 339.8,354.4 340.0,353.9 340.2,353.4 340.5,352.9 340.7,352.4 340.9,351.9 341.1,351.4 341.3,350.9 341.5,350.4 341.7,349.9 341.9,349.4 342.1,348.9 342.2,348.4 342.4,347.9 342.6,347.4 342.7,346.9 342.9,346.4 343.0,345.9 343.1,345.4 343.2,344.9 343.4,344.4 343.5,343.9 343.6,343.4 343.7,342.9 343.8,342.4 343.9,341.9 344.0,341.4 344.0,340.9 344.1,340.4 344.2,339.9 344.3,339.4 344.4,338.9 344.5,338.4 344.5,337.9 344.6,337.4 344.7,336.9 344.8,336.4 344.8,335.9 344.9,335.4 344.9,334.9 345.0,334.4 345.1,333.9 345.1,333.4 345.2,332.9 345.2,332.4 345.3,331.9 345.3,331.4 345.4,330.9 345.4,330.4 345.5,329.9 345.6,329.4 345.7,328.9 345.8,328.4 345.9,327.9 346.0,327.4 346.1,326.9 346.3,326.4 346.4,325.9 346.5,325.4 346.5,324.9 346.6,324.4 346.6,323.9 346.6,323.4 346.6,322.9 346.6,322.4 346.7,321.9 346.7,321.4 346.7,320.9 346.7,320.4 346.7,319.9 346.7,319.4 346.7,318.9 346.7,318.4 346.7,317.9 346.7,317.4 346.7,316.9 346.8,316.4" fill="#AAFFAA" stroke="#000" stroke-width="1.05" stroke-linejoin="round"/>
<path d="M348.00,324.3 V433.6" stroke="#000" stroke-width="1.5"/>
<rect x="344.90" y="375.90" width="6.2" height="33.50" fill="#80FFFF" stroke="#000" stroke-width="1.6"/>
<ellipse cx="348.00" cy="383.6" rx="2.9" ry="2.4" fill="#FF0000"/>
<polygon points="394.8,390.2 394.8,390.7 394.8,391.2 394.8,391.7 394.8,392.2 394.8,392.7 394.8,393.2 394.8,393.7 394.8,394.2 394.8,394.7 394.8,395.2 394.8,395.7 394.8,396.2 394.8,396.7 394.8,397.2 394.8,397.7 394.8,398.2 394.8,398.7 394.9,399.2 394.9,399.7 394.9,400.2 394.9,400.7 394.9,401.2 394.9,401.7 394.9,402.2 394.9,402.7 394.9,403.2 394.9,403.7 394.9,404.2 394.9,404.7 394.9,405.2 394.9,405.8 394.9,406.3 394.9,406.8 394.9,407.3 394.9,407.8 394.9,408.3 394.9,408.8 394.9,409.3 394.9,409.8 394.9,410.3 394.9,410.8 395.0,411.3 395.0,411.8 395.0,412.3 395.0,412.8 395.0,413.3 395.0,413.8 395.0,414.3 395.0,414.8 395.0,415.3 395.0,415.8 395.0,416.3 395.0,416.8 395.1,417.3 395.1,417.8 395.1,418.3 395.1,418.8 395.1,419.3 395.2,419.8 395.2,420.3 395.2,420.8 395.2,421.3 395.3,421.8 395.3,422.3 395.3,422.8 395.4,423.3 395.4,423.8 395.4,424.3 395.5,424.8 395.5,425.3 395.6,425.8 395.6,426.3 395.6,426.8 395.7,427.3 395.7,427.8 395.8,428.3 395.9,428.8 396.0,429.3 396.1,429.8 396.2,430.3 396.3,430.8 396.4,431.3 396.5,431.8 396.6,432.3 396.7,432.8 396.8,433.3 396.9,433.8 396.9,434.3 397.0,434.8 397.1,435.3 397.2,435.8 397.3,436.3 397.3,436.9 397.4,437.4 397.5,437.9 397.6,438.4 397.8,438.9 397.9,439.4 398.1,439.9 398.3,440.4 398.6,440.9 399.0,441.4 399.4,441.9 399.9,442.4 400.4,442.9 401.0,443.4 401.6,443.9 402.2,444.4 402.9,444.9 403.5,445.4 404.2,445.9 404.9,446.4 405.7,446.9 406.6,447.4 407.5,447.9 408.5,448.4 409.6,448.9 410.6,449.4 411.6,449.9 412.6,450.4 413.5,450.9 414.3,451.4 415.0,451.9 415.7,452.4 416.4,452.9 417.0,453.4 417.5,453.9 417.8,454.4 417.7,454.9 416.9,455.4 415.6,455.9 413.9,456.4 412.1,456.9 410.4,457.4 408.8,457.9 407.7,458.4 406.6,458.9 405.6,459.4 404.6,459.9 403.6,460.4 402.6,460.9 401.7,461.4 400.9,461.9 400.1,462.4 399.5,462.9 398.9,463.4 398.5,463.9 398.2,464.4 398.0,464.9 397.8,465.4 397.6,465.9 397.4,466.4 397.3,466.9 397.2,467.4 397.0,468.0 396.9,468.5 396.8,469.0 396.7,469.5 396.6,470.0 396.5,470.5 396.4,471.0 396.3,471.5 396.2,472.0 396.1,472.5 396.0,473.0 395.9,473.5 395.8,474.0 395.7,474.5 395.6,475.0 395.6,475.5 395.5,476.0 395.4,476.5 395.4,477.0 395.3,477.5 395.3,478.0 395.3,478.5 395.2,479.0 395.2,479.5 395.2,480.0 395.1,480.5 395.1,481.0 395.1,481.5 395.1,482.0 395.0,482.5 395.0,483.0 394.0,483.0 394.0,482.5 393.9,482.0 393.9,481.5 393.9,481.0 393.9,480.5 393.8,480.0 393.8,479.5 393.8,479.0 393.7,478.5 393.7,478.0 393.7,477.5 393.6,477.0 393.6,476.5 393.5,476.0 393.4,475.5 393.4,475.0 393.3,474.5 393.2,474.0 393.1,473.5 393.0,473.0 392.9,472.5 392.8,472.0 392.7,471.5 392.6,471.0 392.5,470.5 392.4,470.0 392.3,469.5 392.2,469.0 392.1,468.5 392.0,468.0 391.8,467.4 391.7,466.9 391.6,466.4 391.4,465.9 391.2,465.4 391.0,464.9 390.8,464.4 390.5,463.9 390.1,463.4 389.5,462.9 388.9,462.4 388.1,461.9 387.3,461.4 386.4,460.9 385.4,460.4 384.4,459.9 383.4,459.4 382.4,458.9 381.3,458.4 380.2,457.9 378.6,457.4 376.9,456.9 375.1,456.4 373.4,455.9 372.1,455.4 371.3,454.9 371.2,454.4 371.5,453.9 372.0,453.4 372.6,452.9 373.3,452.4 374.0,451.9 374.7,451.4 375.5,450.9 376.4,450.4 377.4,449.9 378.4,449.4 379.4,448.9 380.5,448.4 381.5,447.9 382.4,447.4 383.3,446.9 384.1,446.4 384.8,445.9 385.5,445.4 386.1,444.9 386.8,444.4 387.4,443.9 388.0,443.4 388.6,442.9 389.1,442.4 389.6,441.9 390.0,441.4 390.4,440.9 390.7,440.4 390.9,439.9 391.1,439.4 391.2,438.9 391.4,438.4 391.5,437.9 391.6,437.4 391.7,436.9 391.7,436.3 391.8,435.8 391.9,435.3 392.0,434.8 392.1,434.3 392.1,433.8 392.2,433.3 392.3,432.8 392.4,432.3 392.5,431.8 392.6,431.3 392.7,430.8 392.8,430.3 392.9,429.8 393.0,429.3 393.1,428.8 393.2,428.3 393.3,427.8 393.3,427.3 393.4,426.8 393.4,426.3 393.4,425.8 393.5,425.3 393.5,424.8 393.6,424.3 393.6,423.8 393.6,423.3 393.7,422.8 393.7,422.3 393.7,421.8 393.8,421.3 393.8,420.8 393.8,420.3 393.8,419.8 393.9,419.3 393.9,418.8 393.9,418.3 393.9,417.8 393.9,417.3 394.0,416.8 394.0,416.3 394.0,415.8 394.0,415.3 394.0,414.8 394.0,414.3 394.0,413.8 394.0,413.3 394.0,412.8 394.0,412.3 394.0,411.8 394.0,411.3 394.1,410.8 394.1,410.3 394.1,409.8 394.1,409.3 394.1,408.8 394.1,408.3 394.1,407.8 394.1,407.3 394.1,406.8 394.1,406.3 394.1,405.8 394.1,405.2 394.1,404.7 394.1,404.2 394.1,403.7 394.1,403.2 394.1,402.7 394.1,402.2 394.1,401.7 394.1,401.2 394.1,400.7 394.1,400.2 394.1,399.7 394.1,399.2 394.2,398.7 394.2,398.2 394.2,397.7 394.2,397.2 394.2,396.7 394.2,396.2 394.2,395.7 394.2,395.2 394.2,394.7 394.2,394.2 394.2,393.7 394.2,393.2 394.2,392.7 394.2,392.2 394.2,391.7 394.2,391.2 394.2,390.7 394.2,390.2" fill="#AAFFAA" stroke="#000" stroke-width="1.05" stroke-linejoin="round"/>
<path d="M394.50,445.3 V462.6" stroke="#000" stroke-width="1.5"/>
<rect x="391.40" y="450.20" width="6.2" height="7.50" fill="#80FFFF" stroke="#000" stroke-width="1.6"/>
<ellipse cx="394.50" cy="454.3" rx="2.9" ry="2.4" fill="#FF0000"/>
<polygon points="441.7,316.4 441.7,316.9 441.7,317.4 441.7,317.9 441.7,318.4 441.7,318.9 441.7,319.4 441.7,319.9 441.7,320.4 441.7,320.9 441.7,321.4 441.7,321.9 441.7,322.4 441.7,322.9 441.7,323.4 441.7,323.9 441.7,324.4 441.8,324.9 441.8,325.4 441.8,325.9 441.8,326.4 441.8,326.9 441.8,327.4 441.8,327.9 441.8,328.4 441.8,328.9 441.8,329.4 441.8,329.9 441.8,330.4 441.8,330.9 441.8,331.4 441.8,331.9 441.8,332.4 441.8,332.9 441.8,333.4 441.8,333.9 441.8,334.4 441.8,334.9 441.8,335.4 441.8,335.9 441.8,336.4 441.8,336.9 441.8,337.4 441.8,337.9 441.8,338.4 441.9,338.9 441.9,339.4 441.9,339.9 441.9,340.4 441.9,340.9 441.9,341.4 441.9,341.9 441.9,342.4 441.9,342.9 441.9,343.4 441.9,343.9 441.9,344.4 441.9,344.9 441.9,345.4 441.9,345.9 441.9,346.4 441.9,346.9 441.9,347.4 441.9,347.9 441.9,348.4 441.9,348.9 441.9,349.4 442.0,349.9 442.0,350.4 442.0,350.9 442.0,351.4 442.0,351.9 442.0,352.4 442.0,352.9 442.0,353.4 442.0,353.9 442.0,354.4 442.0,354.9 442.0,355.4 442.0,355.9 442.0,356.4 442.0,356.9 442.1,357.4 442.1,357.9 442.1,358.4 442.1,358.9 442.1,359.4 442.1,359.9 442.1,360.4 442.1,360.9 442.1,361.4 442.1,361.9 442.2,362.4 442.2,362.9 442.2,363.4 442.2,363.9 442.2,364.4 442.2,364.9 442.3,365.4 442.3,365.9 442.3,366.4 442.3,366.9 442.4,367.4 442.4,367.9 442.4,368.4 442.4,368.9 442.5,369.4 442.5,369.9 442.5,370.4 442.5,370.9 442.6,371.4 442.6,371.9 442.6,372.4 442.7,372.9 442.7,373.4 442.7,373.9 442.8,374.4 442.8,374.9 442.8,375.4 442.9,375.9 442.9,376.4 443.0,376.9 443.0,377.4 443.0,377.9 443.1,378.4 443.1,378.9 443.2,379.4 443.3,379.9 443.3,380.4 443.4,380.9 443.4,381.4 443.5,381.9 443.6,382.4 443.7,382.9 443.8,383.4 443.8,383.9 443.9,384.4 444.0,384.9 444.1,385.4 444.2,385.9 444.2,386.4 444.3,386.9 444.4,387.4 444.4,387.9 444.5,388.4 444.6,388.9 444.6,389.4 444.7,389.9 444.8,390.4 444.9,390.9 445.0,391.4 445.1,391.9 445.3,392.4 445.4,392.9 445.6,393.4 445.7,393.9 445.9,394.4 446.0,394.9 446.2,395.4 446.4,395.9 446.6,396.4 446.8,396.9 447.0,397.4 447.2,397.9 447.4,398.4 447.7,398.9 447.9,399.4 448.2,400.0 448.5,400.5 448.8,401.0 449.1,401.5 449.4,402.0 449.8,402.5 450.2,403.0 450.6,403.5 451.1,404.0 451.6,404.5 452.1,405.0 452.6,405.5 453.1,406.0 453.6,406.5 454.0,407.0 454.5,407.5 455.1,408.0 455.6,408.5 456.1,409.0 456.6,409.5 457.2,410.0 457.7,410.5 458.2,411.0 458.6,411.5 459.1,412.0 459.5,412.5 459.9,413.0 460.3,413.5 460.7,414.0 461.1,414.5 461.4,415.0 461.8,415.5 462.1,416.0 462.4,416.5 462.7,417.0 462.9,417.5 463.2,418.0 463.4,418.5 463.6,419.0 463.9,419.5 464.1,420.0 464.2,420.5 464.3,421.0 464.4,421.5 464.4,422.0 464.3,422.5 464.1,423.0 463.8,423.5 463.6,424.0 463.2,424.5 462.9,425.0 462.6,425.5 462.2,426.0 461.7,426.5 461.2,427.0 460.6,427.5 460.0,428.0 459.4,428.5 458.8,429.0 458.2,429.5 457.7,430.0 457.1,430.5 456.6,431.0 456.1,431.5 455.6,432.0 455.0,432.5 454.5,433.0 454.0,433.5 453.5,434.0 453.0,434.5 452.6,435.0 452.1,435.5 451.7,436.0 451.3,436.5 450.9,437.0 450.5,437.5 450.1,438.0 449.7,438.5 449.3,439.0 449.0,439.5 448.6,440.0 448.3,440.5 448.1,441.0 447.8,441.5 447.5,442.0 447.3,442.5 447.1,443.0 446.8,443.5 446.6,444.0 446.4,444.5 446.2,445.0 446.1,445.5 445.9,446.0 445.7,446.5 445.5,447.0 445.4,447.5 445.2,448.0 445.1,448.5 444.9,449.0 444.8,449.5 444.6,450.0 444.5,450.5 444.4,451.0 444.3,451.5 444.2,452.0 444.1,452.5 444.0,453.0 444.0,453.5 443.9,454.0 443.8,454.5 443.8,455.0 443.7,455.5 443.6,456.0 443.6,456.5 443.5,457.0 443.5,457.5 443.4,458.0 443.4,458.5 443.3,459.0 443.3,459.5 443.3,460.0 443.2,460.5 443.2,461.0 443.1,461.5 443.1,462.0 443.1,462.5 443.0,463.0 443.0,463.5 443.0,464.0 442.9,464.5 442.9,465.0 442.9,465.5 442.8,466.0 442.8,466.5 442.8,467.0 442.7,467.5 442.7,468.0 442.7,468.5 442.7,469.0 442.6,469.5 442.6,470.0 442.6,470.5 442.5,471.0 442.5,471.5 442.5,472.0 442.5,472.5 442.4,473.0 442.4,473.5 442.4,474.0 442.4,474.5 442.3,475.0 442.3,475.5 442.3,476.0 442.3,476.5 442.3,477.0 442.2,477.5 442.2,478.0 442.2,478.5 442.1,479.0 442.1,479.5 442.1,480.0 442.1,480.5 442.0,481.0 442.0,481.5 442.0,482.0 442.0,482.5 441.9,483.0 440.8,483.0 440.8,482.5 440.8,482.0 440.8,481.5 440.8,481.0 440.7,480.5 440.7,480.0 440.7,479.5 440.7,479.0 440.6,478.5 440.6,478.0 440.6,477.5 440.5,477.0 440.5,476.5 440.5,476.0 440.5,475.5 440.5,475.0 440.4,474.5 440.4,474.0 440.4,473.5 440.4,473.0 440.3,472.5 440.3,472.0 440.3,471.5 440.3,471.0 440.2,470.5 440.2,470.0 440.2,469.5 440.1,469.0 440.1,468.5 440.1,468.0 440.1,467.5 440.0,467.0 440.0,466.5 440.0,466.0 439.9,465.5 439.9,465.0 439.9,464.5 439.8,464.0 439.8,463.5 439.8,463.0 439.7,462.5 439.7,462.0 439.7,461.5 439.6,461.0 439.6,460.5 439.5,460.0 439.5,459.5 439.5,459.0 439.4,458.5 439.4,458.0 439.3,457.5 439.3,457.0 439.2,456.5 439.2,456.0 439.1,455.5 439.0,455.0 439.0,454.5 438.9,454.0 438.8,453.5 438.8,453.0 438.7,452.5 438.6,452.0 438.5,451.5 438.4,451.0 438.3,450.5 438.2,450.0 438.0,449.5 437.9,449.0 437.7,448.5 437.6,448.0 437.4,447.5 437.3,447.0 437.1,446.5 436.9,446.0 436.7,445.5 436.6,445.0 436.4,444.5 436.2,444.0 436.0,443.5 435.7,443.0 435.5,442.5 435.3,442.0 435.0,441.5 434.7,441.0 434.5,440.5 434.2,440.0 433.8,439.5 433.5,439.0 433.1,438.5 432.7,438.0 432.3,437.5 431.9,437.0 431.5,436.5 431.1,436.0 430.7,435.5 430.2,435.0 429.8,434.5 429.3,434.0 428.8,433.5 428.3,433.0 427.8,432.5 427.2,432.0 426.7,431.5 426.2,431.0 425.7,430.5 425.1,430.0 424.6,429.5 424.0,429.0 423.4,428.5 422.8,428.0 422.2,427.5 421.6,427.0 421.1,426.5 420.6,426.0 420.2,425.5 419.9,425.0 419.6,424.5 419.2,424.0 419.0,423.5 418.7,423.0 418.5,422.5 418.4,422.0 418.4,421.5 418.5,421.0 418.6,420.5 418.7,420.0 418.9,419.5 419.2,419.0 419.4,418.5 419.6,418.0 419.9,417.5 420.1,417.0 420.4,416.5 420.7,416.0 421.0,415.5 421.4,415.0 421.7,414.5 422.1,414.0 422.5,413.5 422.9,413.0 423.3,412.5 423.7,412.0 424.2,411.5 424.6,411.0 425.1,410.5 425.6,410.0 426.2,409.5 426.7,409.0 427.2,408.5 427.7,408.0 428.3,407.5 428.8,407.0 429.2,406.5 429.7,406.0 430.2,405.5 430.7,405.0 431.2,404.5 431.7,404.0 432.2,403.5 432.6,403.0 433.0,402.5 433.4,402.0 433.7,401.5 434.0,401.0 434.3,400.5 434.6,400.0 434.9,399.4 435.1,398.9 435.4,398.4 435.6,397.9 435.8,397.4 436.0,396.9 436.2,396.4 436.4,395.9 436.6,395.4 436.8,394.9 436.9,394.4 437.1,393.9 437.2,393.4 437.4,392.9 437.5,392.4 437.7,391.9 437.8,391.4 437.9,390.9 438.0,390.4 438.1,389.9 438.2,389.4 438.2,388.9 438.3,388.4 438.4,387.9 438.4,387.4 438.5,386.9 438.6,386.4 438.6,385.9 438.7,385.4 438.8,384.9 438.9,384.4 439.0,383.9 439.0,383.4 439.1,382.9 439.2,382.4 439.3,381.9 439.4,381.4 439.4,380.9 439.5,380.4 439.5,379.9 439.6,379.4 439.7,378.9 439.7,378.4 439.8,377.9 439.8,377.4 439.8,376.9 439.9,376.4 439.9,375.9 440.0,375.4 440.0,374.9 440.0,374.4 440.1,373.9 440.1,373.4 440.1,372.9 440.2,372.4 440.2,371.9 440.2,371.4 440.3,370.9 440.3,370.4 440.3,369.9 440.3,369.4 440.4,368.9 440.4,368.4 440.4,367.9 440.4,367.4 440.5,366.9 440.5,366.4 440.5,365.9 440.5,365.4 440.6,364.9 440.6,364.4 440.6,363.9 440.6,363.4 440.6,362.9 440.6,362.4 440.7,361.9 440.7,361.4 440.7,360.9 440.7,360.4 440.7,359.9 440.7,359.4 440.7,358.9 440.7,358.4 440.7,357.9 440.7,357.4 440.8,356.9 440.8,356.4 440.8,355.9 440.8,355.4 440.8,354.9 440.8,354.4 440.8,353.9 440.8,353.4 440.8,352.9 440.8,352.4 440.8,351.9 440.8,351.4 440.8,350.9 440.8,350.4 440.8,349.9 440.9,349.4 440.9,348.9 440.9,348.4 440.9,347.9 440.9,347.4 440.9,346.9 440.9,346.4 440.9,345.9 440.9,345.4 440.9,344.9 440.9,344.4 440.9,343.9 440.9,343.4 440.9,342.9 440.9,342.4 440.9,341.9 440.9,341.4 440.9,340.9 440.9,340.4 440.9,339.9 440.9,339.4 440.9,338.9 441.0,338.4 441.0,337.9 441.0,337.4 441.0,336.9 441.0,336.4 441.0,335.9 441.0,335.4 441.0,334.9 441.0,334.4 441.0,333.9 441.0,333.4 441.0,332.9 441.0,332.4 441.0,331.9 441.0,331.4 441.0,330.9 441.0,330.4 441.0,329.9 441.0,329.4 441.0,328.9 441.0,328.4 441.0,327.9 441.0,327.4 441.0,326.9 441.0,326.4 441.0,325.9 441.0,325.4 441.0,324.9 441.1,324.4 441.1,323.9 441.1,323.4 441.1,322.9 441.1,322.4 441.1,321.9 441.1,321.4 441.1,320.9 441.1,320.4 441.1,319.9 441.1,319.4 441.1,318.9 441.1,318.4 441.1,317.9 441.1,317.4 441.1,316.9 441.1,316.4" fill="#AAFFAA" stroke="#000" stroke-width="1.05" stroke-linejoin="round"/>
<path d="M441.40,390.4 V460.0" stroke="#000" stroke-width="1.5"/>
<rect x="438.30" y="418.00" width="6.2" height="23.40" fill="#80FFFF" stroke="#000" stroke-width="1.6"/>
<ellipse cx="441.40" cy="421.7" rx="2.9" ry="2.4" fill="#FF0000"/>
<polygon points="488.5,387.2 488.5,387.7 488.5,388.2 488.5,388.7 488.5,389.2 488.5,389.7 488.5,390.2 488.5,390.7 488.5,391.2 488.5,391.7 488.5,392.2 488.5,392.7 488.5,393.2 488.5,393.7 488.5,394.2 488.5,394.7 488.5,395.2 488.5,395.7 488.5,396.2 488.5,396.7 488.5,397.2 488.5,397.7 488.5,398.2 488.5,398.7 488.5,399.2 488.5,399.7 488.5,400.2 488.5,400.7 488.5,401.2 488.5,401.7 488.5,402.2 488.5,402.7 488.5,403.3 488.5,403.8 488.5,404.3 488.5,404.8 488.5,405.3 488.5,405.8 488.5,406.3 488.5,406.8 488.5,407.3 488.5,407.8 488.5,408.3 488.5,408.8 488.5,409.3 488.5,409.8 488.5,410.3 488.5,410.8 488.5,411.3 488.6,411.8 488.6,412.3 488.6,412.8 488.6,413.3 488.6,413.8 488.6,414.3 488.6,414.8 488.6,415.3 488.6,415.8 488.6,416.3 488.6,416.8 488.7,417.3 488.7,417.8 488.7,418.3 488.7,418.8 488.7,419.3 488.8,419.8 488.8,420.3 488.8,420.8 488.8,421.3 488.9,421.8 488.9,422.3 488.9,422.8 489.0,423.3 489.0,423.8 489.1,424.3 489.1,424.8 489.1,425.3 489.2,425.8 489.2,426.3 489.3,426.8 489.3,427.3 489.3,427.8 489.4,428.3 489.4,428.8 489.5,429.3 489.6,429.8 489.6,430.3 489.7,430.8 489.8,431.3 489.9,431.8 490.0,432.3 490.1,432.8 490.2,433.3 490.3,433.8 490.4,434.3 490.5,434.8 490.6,435.4 490.8,435.9 490.9,436.4 491.1,436.9 491.2,437.4 491.4,437.9 491.6,438.4 491.9,438.9 492.1,439.4 492.4,439.9 492.8,440.4 493.2,440.9 493.8,441.4 494.4,441.9 495.1,442.4 495.9,442.9 496.6,443.4 497.4,443.9 498.3,444.4 499.1,444.9 499.9,445.4 500.7,445.9 501.5,446.4 502.5,446.9 503.6,447.4 504.7,447.9 505.9,448.4 507.0,448.9 508.1,449.4 509.1,449.9 510.0,450.4 510.7,450.9 511.2,451.4 511.5,451.9 511.4,452.4 511.1,452.9 510.4,453.4 509.5,453.9 508.4,454.4 507.1,454.9 505.8,455.4 504.4,455.9 503.0,456.4 501.7,456.9 500.5,457.4 499.4,457.9 498.6,458.4 497.8,458.9 497.1,459.4 496.3,459.9 495.5,460.4 494.8,460.9 494.1,461.4 493.4,461.9 492.9,462.4 492.3,462.9 491.9,463.4 491.5,463.9 491.3,464.4 491.1,464.9 490.9,465.4 490.7,465.9 490.6,466.4 490.4,466.9 490.3,467.5 490.2,468.0 490.1,468.5 490.0,469.0 489.9,469.5 489.8,470.0 489.7,470.5 489.7,471.0 489.6,471.5 489.5,472.0 489.5,472.5 489.4,473.0 489.4,473.5 489.3,474.0 489.3,474.5 489.2,475.0 489.2,475.5 489.2,476.0 489.1,476.5 489.1,477.0 489.0,477.5 489.0,478.0 489.0,478.5 488.9,479.0 488.9,479.5 488.9,480.0 488.9,480.5 488.8,481.0 488.8,481.5 488.8,482.0 488.7,482.5 488.7,483.0 487.7,483.0 487.7,482.5 487.6,482.0 487.6,481.5 487.6,481.0 487.5,480.5 487.5,480.0 487.5,479.5 487.5,479.0 487.4,478.5 487.4,478.0 487.4,477.5 487.3,477.0 487.3,476.5 487.2,476.0 487.2,475.5 487.2,475.0 487.1,474.5 487.1,474.0 487.0,473.5 487.0,473.0 486.9,472.5 486.9,472.0 486.8,471.5 486.7,471.0 486.7,470.5 486.6,470.0 486.5,469.5 486.4,469.0 486.3,468.5 486.2,468.0 486.1,467.5 486.0,466.9 485.8,466.4 485.7,465.9 485.5,465.4 485.3,464.9 485.1,464.4 484.9,463.9 484.5,463.4 484.1,462.9 483.5,462.4 483.0,461.9 482.3,461.4 481.6,460.9 480.9,460.4 480.1,459.9 479.3,459.4 478.6,458.9 477.8,458.4 477.0,457.9 475.9,457.4 474.7,456.9 473.4,456.4 472.0,455.9 470.6,455.4 469.3,454.9 468.0,454.4 466.9,453.9 466.0,453.4 465.3,452.9 465.0,452.4 464.9,451.9 465.2,451.4 465.7,450.9 466.4,450.4 467.3,449.9 468.3,449.4 469.4,448.9 470.5,448.4 471.7,447.9 472.8,447.4 473.9,446.9 474.9,446.4 475.7,445.9 476.5,445.4 477.3,444.9 478.1,444.4 479.0,443.9 479.8,443.4 480.5,442.9 481.3,442.4 482.0,441.9 482.6,441.4 483.2,440.9 483.6,440.4 484.0,439.9 484.3,439.4 484.5,438.9 484.8,438.4 485.0,437.9 485.2,437.4 485.3,436.9 485.5,436.4 485.6,435.9 485.8,435.4 485.9,434.8 486.0,434.3 486.1,433.8 486.2,433.3 486.3,432.8 486.4,432.3 486.5,431.8 486.6,431.3 486.7,430.8 486.8,430.3 486.8,429.8 486.9,429.3 487.0,428.8 487.0,428.3 487.1,427.8 487.1,427.3 487.1,426.8 487.2,426.3 487.2,425.8 487.3,425.3 487.3,424.8 487.3,424.3 487.4,423.8 487.4,423.3 487.5,422.8 487.5,422.3 487.5,421.8 487.6,421.3 487.6,420.8 487.6,420.3 487.6,419.8 487.7,419.3 487.7,418.8 487.7,418.3 487.7,417.8 487.7,417.3 487.8,416.8 487.8,416.3 487.8,415.8 487.8,415.3 487.8,414.8 487.8,414.3 487.8,413.8 487.8,413.3 487.8,412.8 487.8,412.3 487.8,411.8 487.9,411.3 487.9,410.8 487.9,410.3 487.9,409.8 487.9,409.3 487.9,408.8 487.9,408.3 487.9,407.8 487.9,407.3 487.9,406.8 487.9,406.3 487.9,405.8 487.9,405.3 487.9,404.8 487.9,404.3 487.9,403.8 487.9,403.3 487.9,402.7 487.9,402.2 487.9,401.7 487.9,401.2 487.9,400.7 487.9,400.2 487.9,399.7 487.9,399.2 487.9,398.7 487.9,398.2 487.9,397.7 487.9,397.2 487.9,396.7 487.9,396.2 487.9,395.7 487.9,395.2 487.9,394.7 487.9,394.2 487.9,393.7 487.9,393.2 487.9,392.7 487.9,392.2 487.9,391.7 487.9,391.2 487.9,390.7 487.9,390.2 487.9,389.7 487.9,389.2 487.9,388.7 487.9,388.2 487.9,387.7 487.9,387.2" fill="#AAFFAA" stroke="#000" stroke-width="1.05" stroke-linejoin="round"/>
<path d="M488.20,437.2 V459.5" stroke="#000" stroke-width="1.5"/>
<rect x="485.10" y="448.90" width="6.2" height="7.60" fill="#80FFFF" stroke="#000" stroke-width="1.6"/>
<ellipse cx="488.20" cy="451.8" rx="2.9" ry="2.4" fill="#FF0000"/>
<polygon points="538.6,316.3 538.6,316.8 538.7,317.3 538.7,317.8 538.8,318.3 538.8,318.8 538.9,319.3 538.9,319.8 538.9,320.3 539.0,320.8 539.0,321.3 539.1,321.8 539.1,322.3 539.2,322.8 539.2,323.3 539.3,323.8 539.3,324.3 539.4,324.8 539.4,325.3 539.5,325.8 539.5,326.3 539.6,326.8 539.6,327.3 539.7,327.8 539.8,328.3 539.8,328.8 539.9,329.3 540.0,329.8 540.0,330.3 540.1,330.8 540.2,331.3 540.3,331.8 540.3,332.3 540.4,332.8 540.5,333.3 540.6,333.8 540.7,334.3 540.8,334.8 540.9,335.3 541.0,335.8 541.1,336.3 541.2,336.8 541.3,337.3 541.4,337.8 541.6,338.3 541.7,338.8 541.8,339.3 542.0,339.8 542.1,340.3 542.3,340.8 542.4,341.3 542.6,341.8 542.7,342.3 542.9,342.8 543.1,343.3 543.2,343.8 543.4,344.3 543.5,344.8 543.7,345.3 543.8,345.8 543.9,346.3 544.1,346.8 544.2,347.3 544.4,347.8 544.5,348.3 544.7,348.8 544.9,349.3 545.1,349.8 545.2,350.3 545.4,350.8 545.6,351.3 545.8,351.8 546.0,352.3 546.2,352.8 546.4,353.3 546.7,353.8 546.9,354.3 547.1,354.8 547.3,355.3 547.6,355.8 547.8,356.3 548.1,356.8 548.3,357.3 548.6,357.8 548.9,358.4 549.1,358.9 549.3,359.4 549.6,359.9 549.8,360.4 550.0,360.9 550.2,361.4 550.4,361.9 550.6,362.4 550.8,362.9 551.0,363.4 551.2,363.9 551.4,364.4 551.6,364.9 551.8,365.4 552.0,365.9 552.2,366.4 552.4,366.9 552.6,367.4 552.8,367.9 553.0,368.4 553.2,368.9 553.4,369.4 553.6,369.9 553.8,370.4 554.1,370.9 554.3,371.4 554.6,371.9 554.9,372.4 555.2,372.9 555.5,373.4 555.7,373.9 556.0,374.4 556.2,374.9 556.4,375.4 556.6,375.9 556.8,376.4 557.0,376.9 557.1,377.4 557.3,377.9 557.5,378.4 557.6,378.9 557.7,379.4 557.9,379.9 558.0,380.4 558.1,380.9 558.1,381.4 558.2,381.9 558.3,382.4 558.4,382.9 558.5,383.4 558.6,383.9 558.6,384.4 558.7,384.9 558.7,385.4 558.7,385.9 558.7,386.4 558.7,386.9 558.6,387.4 558.6,387.9 558.5,388.4 558.4,388.9 558.4,389.4 558.3,389.9 558.2,390.4 558.1,390.9 558.0,391.4 557.8,391.9 557.6,392.4 557.4,392.9 557.2,393.4 556.9,393.9 556.6,394.4 556.4,394.9 556.1,395.4 555.8,395.9 555.5,396.4 555.2,396.9 554.8,397.4 554.5,397.9 554.2,398.4 553.8,398.9 553.4,399.4 553.1,399.9 552.7,400.4 552.3,400.9 552.0,401.4 551.6,401.9 551.3,402.4 550.9,402.9 550.5,403.4 550.2,403.9 549.8,404.4 549.4,404.9 549.1,405.4 548.8,405.9 548.4,406.4 548.1,406.9 547.8,407.4 547.5,407.9 547.2,408.4 547.0,408.9 546.7,409.4 546.4,409.9 546.2,410.4 545.9,410.9 545.7,411.4 545.5,411.9 545.3,412.4 545.1,412.9 544.9,413.4 544.8,413.9 544.6,414.4 544.5,414.9 544.3,415.4 544.2,415.9 544.0,416.4 543.9,416.9 543.8,417.4 543.6,417.9 543.5,418.4 543.4,418.9 543.2,419.4 543.1,419.9 543.0,420.4 542.8,420.9 542.7,421.4 542.6,421.9 542.5,422.4 542.4,422.9 542.3,423.4 542.3,423.9 542.2,424.4 542.1,424.9 542.1,425.4 542.0,425.9 542.0,426.4 541.9,426.9 541.9,427.4 541.8,427.9 541.8,428.4 541.7,428.9 541.6,429.4 541.6,429.9 541.5,430.4 541.4,430.9 541.4,431.4 541.3,431.9 541.2,432.4 541.2,432.9 541.1,433.4 541.0,433.9 540.9,434.4 540.9,434.9 540.8,435.4 540.7,435.9 540.6,436.4 540.6,436.9 540.5,437.4 540.4,437.9 540.3,438.4 540.2,438.9 540.2,439.4 540.1,439.9 540.0,440.4 539.9,440.9 539.8,441.5 539.7,442.0 539.6,442.5 539.5,443.0 539.5,443.5 539.4,444.0 539.3,444.5 539.2,445.0 539.1,445.5 539.0,446.0 538.9,446.5 538.9,447.0 538.8,447.5 538.7,448.0 538.7,448.5 538.6,449.0 538.6,449.5 538.5,450.0 538.5,450.5 538.5,451.0 538.4,451.5 538.4,452.0 538.3,452.5 538.3,453.0 538.3,453.5 538.3,454.0 538.2,454.5 538.2,455.0 538.2,455.5 538.1,456.0 538.1,456.5 538.1,457.0 538.0,457.5 538.0,458.0 538.0,458.5 538.0,459.0 537.9,459.5 537.9,460.0 537.9,460.5 537.8,461.0 537.8,461.5 537.7,462.0 537.7,462.5 537.7,463.0 537.6,463.5 537.6,464.0 537.5,464.5 537.5,465.0 537.5,465.5 537.4,466.0 537.4,466.5 537.3,467.0 537.3,467.5 537.3,468.0 537.2,468.5 537.2,469.0 537.2,469.5 537.1,470.0 537.1,470.5 537.1,471.0 537.0,471.5 537.0,472.0 537.0,472.5 537.0,473.0 536.9,473.5 536.9,474.0 536.9,474.5 536.9,475.0 536.8,475.5 536.8,476.0 536.8,476.5 536.8,477.0 536.8,477.5 536.7,478.0 536.7,478.5 536.7,479.0 536.7,479.5 536.6,480.0 536.6,480.5 536.6,481.0 536.6,481.5 536.6,482.0 536.5,482.5 536.5,483.0 533.9,483.0 533.9,482.5 533.8,482.0 533.8,481.5 533.8,481.0 533.8,480.5 533.8,480.0 533.7,479.5 533.7,479.0 533.7,478.5 533.7,478.0 533.6,477.5 533.6,477.0 533.6,476.5 533.6,476.0 533.6,475.5 533.5,475.0 533.5,474.5 533.5,474.0 533.5,473.5 533.4,473.0 533.4,472.5 533.4,472.0 533.4,471.5 533.3,471.0 533.3,470.5 533.3,470.0 533.2,469.5 533.2,469.0 533.2,468.5 533.1,468.0 533.1,467.5 533.1,467.0 533.0,466.5 533.0,466.0 532.9,465.5 532.9,465.0 532.9,464.5 532.8,464.0 532.8,463.5 532.7,463.0 532.7,462.5 532.7,462.0 532.6,461.5 532.6,461.0 532.5,460.5 532.5,460.0 532.5,459.5 532.4,459.0 532.4,458.5 532.4,458.0 532.4,457.5 532.3,457.0 532.3,456.5 532.3,456.0 532.2,455.5 532.2,455.0 532.2,454.5 532.1,454.0 532.1,453.5 532.1,453.0 532.1,452.5 532.0,452.0 532.0,451.5 531.9,451.0 531.9,450.5 531.9,450.0 531.8,449.5 531.8,449.0 531.7,448.5 531.7,448.0 531.6,447.5 531.5,447.0 531.5,446.5 531.4,446.0 531.3,445.5 531.2,445.0 531.1,444.5 531.0,444.0 530.9,443.5 530.9,443.0 530.8,442.5 530.7,442.0 530.6,441.5 530.5,440.9 530.4,440.4 530.3,439.9 530.2,439.4 530.2,438.9 530.1,438.4 530.0,437.9 529.9,437.4 529.8,436.9 529.8,436.4 529.7,435.9 529.6,435.4 529.5,434.9 529.5,434.4 529.4,433.9 529.3,433.4 529.2,432.9 529.2,432.4 529.1,431.9 529.0,431.4 529.0,430.9 528.9,430.4 528.8,429.9 528.8,429.4 528.7,428.9 528.6,428.4 528.6,427.9 528.5,427.4 528.5,426.9 528.4,426.4 528.4,425.9 528.3,425.4 528.3,424.9 528.2,424.4 528.1,423.9 528.1,423.4 528.0,422.9 527.9,422.4 527.8,421.9 527.7,421.4 527.6,420.9 527.4,420.4 527.3,419.9 527.2,419.4 527.0,418.9 526.9,418.4 526.8,417.9 526.6,417.4 526.5,416.9 526.4,416.4 526.2,415.9 526.1,415.4 525.9,414.9 525.8,414.4 525.6,413.9 525.5,413.4 525.3,412.9 525.1,412.4 524.9,411.9 524.7,411.4 524.5,410.9 524.2,410.4 524.0,409.9 523.7,409.4 523.4,408.9 523.2,408.4 522.9,407.9 522.6,407.4 522.3,406.9 522.0,406.4 521.6,405.9 521.3,405.4 521.0,404.9 520.6,404.4 520.2,403.9 519.9,403.4 519.5,402.9 519.1,402.4 518.8,401.9 518.4,401.4 518.1,400.9 517.7,400.4 517.3,399.9 517.0,399.4 516.6,398.9 516.2,398.4 515.9,397.9 515.6,397.4 515.2,396.9 514.9,396.4 514.6,395.9 514.3,395.4 514.0,394.9 513.8,394.4 513.5,393.9 513.2,393.4 513.0,392.9 512.8,392.4 512.6,391.9 512.4,391.4 512.3,390.9 512.2,390.4 512.1,389.9 512.0,389.4 512.0,388.9 511.9,388.4 511.8,387.9 511.8,387.4 511.7,386.9 511.7,386.4 511.7,385.9 511.7,385.4 511.7,384.9 511.8,384.4 511.8,383.9 511.9,383.4 512.0,382.9 512.1,382.4 512.2,381.9 512.3,381.4 512.3,380.9 512.4,380.4 512.5,379.9 512.7,379.4 512.8,378.9 512.9,378.4 513.1,377.9 513.3,377.4 513.4,376.9 513.6,376.4 513.8,375.9 514.0,375.4 514.2,374.9 514.4,374.4 514.7,373.9 514.9,373.4 515.2,372.9 515.5,372.4 515.8,371.9 516.1,371.4 516.3,370.9 516.6,370.4 516.8,369.9 517.0,369.4 517.2,368.9 517.4,368.4 517.6,367.9 517.8,367.4 518.0,366.9 518.2,366.4 518.4,365.9 518.6,365.4 518.8,364.9 519.0,364.4 519.2,363.9 519.4,363.4 519.6,362.9 519.8,362.4 520.0,361.9 520.2,361.4 520.4,360.9 520.6,360.4 520.8,359.9 521.1,359.4 521.3,358.9 521.5,358.4 521.8,357.8 522.1,357.3 522.3,356.8 522.6,356.3 522.8,355.8 523.1,355.3 523.3,354.8 523.5,354.3 523.7,353.8 524.0,353.3 524.2,352.8 524.4,352.3 524.6,351.8 524.8,351.3 525.0,350.8 525.2,350.3 525.3,349.8 525.5,349.3 525.7,348.8 525.9,348.3 526.0,347.8 526.2,347.3 526.3,346.8 526.5,346.3 526.6,345.8 526.7,345.3 526.9,344.8 527.0,344.3 527.2,343.8 527.3,343.3 527.5,342.8 527.7,342.3 527.8,341.8 528.0,341.3 528.1,340.8 528.3,340.3 528.4,339.8 528.6,339.3 528.7,338.8 528.8,338.3 529.0,337.8 529.1,337.3 529.2,336.8 529.3,336.3 529.4,335.8 529.5,335.3 529.6,334.8 529.7,334.3 529.8,333.8 529.9,333.3 530.0,332.8 530.1,332.3 530.1,331.8 530.2,331.3 530.3,330.8 530.4,330.3 530.4,329.8 530.5,329.3 530.6,328.8 530.6,328.3 530.7,327.8 530.8,327.3 530.8,326.8 530.9,326.3 530.9,325.8 531.0,325.3 531.0,324.8 531.1,324.3 531.1,323.8 531.2,323.3 531.2,322.8 531.3,322.3 531.3,321.8 531.4,321.3 531.4,320.8 531.5,320.3 531.5,319.8 531.5,319.3 531.6,318.8 531.6,318.3 531.7,317.8 531.7,317.3 531.8,316.8 531.8,316.3" fill="#AAFFAA" stroke="#000" stroke-width="1.05" stroke-linejoin="round"/>
<path d="M535.20,348.9 V460.9" stroke="#000" stroke-width="1.5"/>
<rect x="532.10" y="366.40" width="6.2" height="54.20" fill="#80FFFF" stroke="#000" stroke-width="1.6"/>
<ellipse cx="535.20" cy="386.4" rx="2.9" ry="2.4" fill="#FF0000"/>
<polygon points="582.2,405.3 582.2,405.8 582.2,406.3 582.2,406.8 582.2,407.3 582.2,407.8 582.2,408.3 582.2,408.8 582.2,409.3 582.2,409.8 582.2,410.3 582.2,410.8 582.2,411.3 582.2,411.8 582.2,412.3 582.2,412.8 582.2,413.3 582.2,413.8 582.2,414.3 582.2,414.8 582.2,415.3 582.2,415.8 582.2,416.3 582.2,416.8 582.2,417.3 582.2,417.8 582.2,418.3 582.2,418.8 582.2,419.3 582.2,419.8 582.2,420.3 582.2,420.8 582.2,421.3 582.2,421.8 582.2,422.3 582.2,422.8 582.2,423.3 582.2,423.8 582.2,424.3 582.2,424.9 582.2,425.4 582.2,425.9 582.2,426.4 582.2,426.9 582.2,427.4 582.2,427.9 582.2,428.4 582.2,428.9 582.2,429.4 582.2,429.9 582.2,430.4 582.2,430.9 582.2,431.4 582.3,431.9 582.3,432.4 582.4,432.9 582.4,433.4 582.5,433.9 582.5,434.4 582.6,434.9 582.7,435.4 582.8,435.9 582.9,436.4 582.9,436.9 583.0,437.4 583.1,437.9 583.2,438.4 583.3,438.9 583.4,439.4 583.5,439.9 583.6,440.4 583.7,440.9 583.9,441.4 584.0,441.9 584.2,442.4 584.4,442.9 584.5,443.4 584.8,443.9 585.0,444.4 585.2,444.9 585.6,445.4 586.1,445.9 586.8,446.4 587.7,446.9 588.6,447.4 589.6,447.9 590.6,448.4 591.6,448.9 592.5,449.4 593.5,449.9 594.7,450.4 596.0,450.9 597.3,451.4 598.7,451.9 600.1,452.4 601.4,452.9 602.6,453.4 603.7,453.9 604.5,454.4 605.1,454.9 605.4,455.4 605.2,455.9 604.2,456.4 602.5,456.9 600.3,457.4 597.9,457.9 595.4,458.4 593.1,458.9 591.2,459.4 589.8,459.9 588.9,460.4 588.1,460.9 587.3,461.4 586.6,461.9 585.9,462.4 585.4,462.9 584.9,463.4 584.5,464.0 584.3,464.5 584.1,465.0 583.9,465.5 583.8,466.0 583.6,466.5 583.5,467.0 583.4,467.5 583.2,468.0 583.1,468.5 583.1,469.0 583.0,469.5 582.9,470.0 582.8,470.5 582.8,471.0 582.7,471.5 582.7,472.0 582.7,472.5 582.6,473.0 582.6,473.5 582.6,474.0 582.6,474.5 582.6,475.0 582.5,475.5 582.5,476.0 582.5,476.5 582.5,477.0 582.5,477.5 582.4,478.0 582.4,478.5 582.4,479.0 582.4,479.5 582.4,480.0 582.4,480.5 582.4,481.0 582.4,481.5 582.3,482.0 582.3,482.5 582.3,483.0 581.5,483.0 581.5,482.5 581.5,482.0 581.4,481.5 581.4,481.0 581.4,480.5 581.4,480.0 581.4,479.5 581.4,479.0 581.4,478.5 581.4,478.0 581.3,477.5 581.3,477.0 581.3,476.5 581.3,476.0 581.3,475.5 581.2,475.0 581.2,474.5 581.2,474.0 581.2,473.5 581.2,473.0 581.1,472.5 581.1,472.0 581.1,471.5 581.0,471.0 581.0,470.5 580.9,470.0 580.8,469.5 580.7,469.0 580.7,468.5 580.6,468.0 580.4,467.5 580.3,467.0 580.2,466.5 580.0,466.0 579.9,465.5 579.7,465.0 579.5,464.5 579.3,464.0 578.9,463.4 578.4,462.9 577.9,462.4 577.2,461.9 576.5,461.4 575.7,460.9 574.9,460.4 574.0,459.9 572.6,459.4 570.7,458.9 568.4,458.4 565.9,457.9 563.5,457.4 561.3,456.9 559.6,456.4 558.6,455.9 558.4,455.4 558.7,454.9 559.3,454.4 560.1,453.9 561.2,453.4 562.4,452.9 563.7,452.4 565.1,451.9 566.5,451.4 567.8,450.9 569.1,450.4 570.3,449.9 571.3,449.4 572.2,448.9 573.2,448.4 574.2,447.9 575.2,447.4 576.1,446.9 577.0,446.4 577.7,445.9 578.2,445.4 578.6,444.9 578.8,444.4 579.0,443.9 579.3,443.4 579.4,442.9 579.6,442.4 579.8,441.9 579.9,441.4 580.1,440.9 580.2,440.4 580.3,439.9 580.4,439.4 580.5,438.9 580.6,438.4 580.7,437.9 580.8,437.4 580.9,436.9 580.9,436.4 581.0,435.9 581.1,435.4 581.2,434.9 581.3,434.4 581.3,433.9 581.4,433.4 581.4,432.9 581.5,432.4 581.5,431.9 581.6,431.4 581.6,430.9 581.6,430.4 581.6,429.9 581.6,429.4 581.6,428.9 581.6,428.4 581.6,427.9 581.6,427.4 581.6,426.9 581.6,426.4 581.6,425.9 581.6,425.4 581.6,424.9 581.6,424.3 581.6,423.8 581.6,423.3 581.6,422.8 581.6,422.3 581.6,421.8 581.6,421.3 581.6,420.8 581.6,420.3 581.6,419.8 581.6,419.3 581.6,418.8 581.6,418.3 581.6,417.8 581.6,417.3 581.6,416.8 581.6,416.3 581.6,415.8 581.6,415.3 581.6,414.8 581.6,414.3 581.6,413.8 581.6,413.3 581.6,412.8 581.6,412.3 581.6,411.8 581.6,411.3 581.6,410.8 581.6,410.3 581.6,409.8 581.6,409.3 581.6,408.8 581.6,408.3 581.6,407.8 581.6,407.3 581.6,406.8 581.6,406.3 581.6,405.8 581.6,405.3" fill="#AAFFAA" stroke="#000" stroke-width="1.05" stroke-linejoin="round"/>
<path d="M581.90,443.5 V461.9" stroke="#000" stroke-width="1.5"/>
<rect x="578.80" y="451.80" width="6.2" height="6.00" fill="#80FFFF" stroke="#000" stroke-width="1.6"/>
<ellipse cx="581.90" cy="455.8" rx="2.9" ry="2.4" fill="#FF0000"/>
<polygon points="629.5,316.4 629.5,316.9 629.5,317.4 629.5,317.9 629.5,318.4 629.5,318.9 629.5,319.4 629.5,319.9 629.5,320.4 629.5,320.9 629.5,321.4 629.6,321.9 629.6,322.4 629.6,322.9 629.6,323.4 629.6,323.9 629.6,324.4 629.6,324.9 629.6,325.4 629.6,325.9 629.6,326.4 629.6,326.9 629.6,327.4 629.6,327.9 629.6,328.4 629.6,328.9 629.6,329.4 629.6,329.9 629.6,330.4 629.6,330.9 629.6,331.4 629.6,331.9 629.6,332.4 629.7,332.9 629.7,333.4 629.7,333.9 629.7,334.4 629.7,334.9 629.7,335.4 629.7,335.9 629.7,336.4 629.7,336.9 629.7,337.4 629.7,337.9 629.7,338.4 629.7,338.9 629.7,339.4 629.7,339.9 629.8,340.4 629.8,340.9 629.8,341.4 629.8,341.9 629.8,342.4 629.8,342.9 629.8,343.4 629.8,343.9 629.9,344.4 629.9,344.9 629.9,345.4 629.9,345.9 629.9,346.4 629.9,346.9 630.0,347.4 630.0,347.9 630.0,348.4 630.0,348.9 630.1,349.4 630.1,349.9 630.1,350.4 630.1,350.9 630.1,351.4 630.2,351.9 630.2,352.4 630.2,352.9 630.3,353.4 630.3,353.9 630.3,354.4 630.3,354.9 630.4,355.4 630.4,355.9 630.4,356.4 630.5,356.9 630.5,357.4 630.6,357.9 630.6,358.4 630.7,358.9 630.7,359.4 630.8,359.9 630.8,360.4 630.9,360.9 631.0,361.4 631.0,361.9 631.1,362.4 631.2,362.9 631.2,363.4 631.3,363.9 631.4,364.4 631.5,364.9 631.5,365.4 631.6,365.9 631.7,366.4 631.7,366.9 631.8,367.4 631.9,367.9 632.0,368.4 632.0,368.9 632.1,369.4 632.2,369.9 632.2,370.4 632.3,370.9 632.4,371.4 632.4,371.9 632.5,372.4 632.5,372.9 632.6,373.4 632.6,373.9 632.7,374.4 632.7,374.9 632.8,375.4 632.8,375.9 632.8,376.4 632.9,376.9 632.9,377.4 633.0,377.9 633.0,378.4 633.1,378.9 633.1,379.4 633.2,379.9 633.2,380.4 633.3,380.9 633.3,381.4 633.4,381.9 633.4,382.4 633.5,382.9 633.6,383.4 633.6,383.9 633.7,384.4 633.8,384.9 633.9,385.4 634.0,385.9 634.1,386.4 634.2,386.9 634.3,387.4 634.5,387.9 634.6,388.4 634.8,388.9 635.0,389.4 635.1,389.9 635.3,390.4 635.5,390.9 635.7,391.4 635.9,391.9 636.1,392.4 636.3,392.9 636.5,393.4 636.8,393.9 637.0,394.4 637.2,394.9 637.4,395.4 637.7,395.9 637.9,396.4 638.2,396.9 638.5,397.4 638.8,397.9 639.1,398.4 639.4,398.9 639.7,399.4 640.1,400.0 640.4,400.5 640.8,401.0 641.1,401.5 641.5,402.0 641.8,402.5 642.2,403.0 642.5,403.5 642.9,404.0 643.2,404.5 643.6,405.0 643.9,405.5 644.2,406.0 644.6,406.5 644.9,407.0 645.2,407.5 645.6,408.0 645.9,408.5 646.3,409.0 646.6,409.5 647.0,410.0 647.4,410.5 647.7,411.0 648.1,411.5 648.4,412.0 648.7,412.5 649.0,413.0 649.3,413.5 649.6,414.0 649.9,414.5 650.1,415.0 650.3,415.5 650.5,416.0 650.7,416.5 650.8,417.0 651.0,417.5 651.1,418.0 651.2,418.5 651.3,419.0 651.4,419.5 651.5,420.0 651.6,420.5 651.7,421.0 651.8,421.5 651.8,422.0 651.9,422.5 651.9,423.0 651.9,423.5 651.9,424.0 651.8,424.5 651.7,425.0 651.6,425.5 651.5,426.0 651.3,426.5 651.2,427.0 651.0,427.5 650.8,428.0 650.6,428.5 650.4,429.0 650.1,429.5 649.9,430.0 649.7,430.5 649.3,431.0 649.0,431.5 648.5,432.0 648.1,432.5 647.6,433.0 647.1,433.5 646.6,434.0 646.1,434.5 645.6,435.0 645.2,435.5 644.8,436.0 644.4,436.5 644.0,437.0 643.6,437.5 643.3,438.0 642.9,438.5 642.5,439.0 642.1,439.5 641.8,440.0 641.4,440.5 641.0,441.0 640.6,441.5 640.2,442.0 639.8,442.5 639.5,443.0 639.1,443.5 638.7,444.0 638.4,444.5 638.0,445.0 637.7,445.5 637.5,446.0 637.2,446.5 637.0,447.0 636.8,447.5 636.5,448.0 636.3,448.5 636.2,449.0 636.0,449.5 635.8,450.0 635.6,450.5 635.5,451.0 635.3,451.5 635.2,452.0 635.0,452.5 634.9,453.0 634.7,453.5 634.6,454.0 634.5,454.5 634.4,455.0 634.2,455.5 634.1,456.0 634.0,456.5 633.9,457.0 633.8,457.5 633.7,458.0 633.6,458.5 633.5,459.0 633.4,459.5 633.3,460.0 633.2,460.5 633.1,461.0 633.0,461.5 633.0,462.0 632.9,462.5 632.8,463.0 632.8,463.5 632.7,464.0 632.6,464.5 632.6,465.0 632.5,465.5 632.4,466.0 632.4,466.5 632.3,467.0 632.2,467.5 632.2,468.0 632.1,468.5 632.0,469.0 632.0,469.5 631.9,470.0 631.8,470.5 631.7,471.0 631.7,471.5 631.6,472.0 631.6,472.5 631.6,473.0 631.5,473.5 631.5,474.0 631.5,474.5 631.4,475.0 631.4,475.5 631.4,476.0 631.4,476.5 631.3,477.0 631.3,477.5 631.3,478.0 631.3,478.5 631.2,479.0 631.2,479.5 631.2,480.0 631.2,480.5 631.2,481.0 631.2,481.5 631.1,482.0 631.1,482.5 631.1,483.0 625.9,483.0 625.9,482.5 625.9,482.0 625.8,481.5 625.8,481.0 625.8,480.5 625.8,480.0 625.8,479.5 625.8,479.0 625.7,478.5 625.7,478.0 625.7,477.5 625.7,477.0 625.6,476.5 625.6,476.0 625.6,475.5 625.6,475.0 625.5,474.5 625.5,474.0 625.5,473.5 625.4,473.0 625.4,472.5 625.4,472.0 625.3,471.5 625.3,471.0 625.2,470.5 625.1,470.0 625.0,469.5 625.0,469.0 624.9,468.5 624.8,468.0 624.8,467.5 624.7,467.0 624.6,466.5 624.6,466.0 624.5,465.5 624.4,465.0 624.4,464.5 624.3,464.0 624.2,463.5 624.2,463.0 624.1,462.5 624.0,462.0 624.0,461.5 623.9,461.0 623.8,460.5 623.7,460.0 623.6,459.5 623.5,459.0 623.4,458.5 623.3,458.0 623.2,457.5 623.1,457.0 623.0,456.5 622.9,456.0 622.8,455.5 622.6,455.0 622.5,454.5 622.4,454.0 622.3,453.5 622.1,453.0 622.0,452.5 621.8,452.0 621.7,451.5 621.5,451.0 621.4,450.5 621.2,450.0 621.0,449.5 620.8,449.0 620.7,448.5 620.5,448.0 620.2,447.5 620.0,447.0 619.8,446.5 619.5,446.0 619.3,445.5 619.0,445.0 618.6,444.5 618.3,444.0 617.9,443.5 617.5,443.0 617.2,442.5 616.8,442.0 616.4,441.5 616.0,441.0 615.6,440.5 615.2,440.0 614.9,439.5 614.5,439.0 614.1,438.5 613.7,438.0 613.4,437.5 613.0,437.0 612.6,436.5 612.2,436.0 611.8,435.5 611.4,435.0 610.9,434.5 610.4,434.0 609.9,433.5 609.4,433.0 608.9,432.5 608.5,432.0 608.0,431.5 607.7,431.0 607.3,430.5 607.1,430.0 606.9,429.5 606.6,429.0 606.4,428.5 606.2,428.0 606.0,427.5 605.8,427.0 605.7,426.5 605.5,426.0 605.4,425.5 605.3,425.0 605.2,424.5 605.1,424.0 605.1,423.5 605.1,423.0 605.1,422.5 605.2,422.0 605.2,421.5 605.3,421.0 605.4,420.5 605.5,420.0 605.6,419.5 605.7,419.0 605.8,418.5 605.9,418.0 606.0,417.5 606.2,417.0 606.3,416.5 606.5,416.0 606.7,415.5 606.9,415.0 607.1,414.5 607.4,414.0 607.7,413.5 608.0,413.0 608.3,412.5 608.6,412.0 608.9,411.5 609.3,411.0 609.6,410.5 610.0,410.0 610.4,409.5 610.7,409.0 611.1,408.5 611.4,408.0 611.8,407.5 612.1,407.0 612.4,406.5 612.8,406.0 613.1,405.5 613.4,405.0 613.8,404.5 614.1,404.0 614.5,403.5 614.8,403.0 615.2,402.5 615.5,402.0 615.9,401.5 616.2,401.0 616.6,400.5 616.9,400.0 617.3,399.4 617.6,398.9 617.9,398.4 618.2,397.9 618.5,397.4 618.8,396.9 619.1,396.4 619.3,395.9 619.6,395.4 619.8,394.9 620.0,394.4 620.2,393.9 620.5,393.4 620.7,392.9 620.9,392.4 621.1,391.9 621.3,391.4 621.5,390.9 621.7,390.4 621.9,389.9 622.0,389.4 622.2,388.9 622.4,388.4 622.5,387.9 622.7,387.4 622.8,386.9 622.9,386.4 623.0,385.9 623.1,385.4 623.2,384.9 623.3,384.4 623.4,383.9 623.4,383.4 623.5,382.9 623.6,382.4 623.6,381.9 623.7,381.4 623.7,380.9 623.8,380.4 623.8,379.9 623.9,379.4 623.9,378.9 624.0,378.4 624.0,377.9 624.1,377.4 624.1,376.9 624.2,376.4 624.2,375.9 624.2,375.4 624.3,374.9 624.3,374.4 624.4,373.9 624.4,373.4 624.5,372.9 624.5,372.4 624.6,371.9 624.6,371.4 624.7,370.9 624.8,370.4 624.8,369.9 624.9,369.4 625.0,368.9 625.0,368.4 625.1,367.9 625.2,367.4 625.3,366.9 625.3,366.4 625.4,365.9 625.5,365.4 625.5,364.9 625.6,364.4 625.7,363.9 625.8,363.4 625.8,362.9 625.9,362.4 626.0,361.9 626.0,361.4 626.1,360.9 626.2,360.4 626.2,359.9 626.3,359.4 626.3,358.9 626.4,358.4 626.4,357.9 626.5,357.4 626.5,356.9 626.6,356.4 626.6,355.9 626.6,355.4 626.7,354.9 626.7,354.4 626.7,353.9 626.7,353.4 626.8,352.9 626.8,352.4 626.8,351.9 626.9,351.4 626.9,350.9 626.9,350.4 626.9,349.9 626.9,349.4 627.0,348.9 627.0,348.4 627.0,347.9 627.0,347.4 627.1,346.9 627.1,346.4 627.1,345.9 627.1,345.4 627.1,344.9 627.1,344.4 627.2,343.9 627.2,343.4 627.2,342.9 627.2,342.4 627.2,341.9 627.2,341.4 627.2,340.9 627.2,340.4 627.3,339.9 627.3,339.4 627.3,338.9 627.3,338.4 627.3,337.9 627.3,337.4 627.3,336.9 627.3,336.4 627.3,335.9 627.3,335.4 627.3,334.9 627.3,334.4 627.3,333.9 627.3,333.4 627.3,332.9 627.4,332.4 627.4,331.9 627.4,331.4 627.4,330.9 627.4,330.4 627.4,329.9 627.4,329.4 627.4,328.9 627.4,328.4 627.4,327.9 627.4,327.4 627.4,326.9 627.4,326.4 627.4,325.9 627.4,325.4 627.4,324.9 627.4,324.4 627.4,323.9 627.4,323.4 627.4,322.9 627.4,322.4 627.4,321.9 627.5,321.4 627.5,320.9 627.5,320.4 627.5,319.9 627.5,319.4 627.5,318.9 627.5,318.4 627.5,317.9 627.5,317.4 627.5,316.9 627.5,316.4" fill="#AAFFAA" stroke="#000" stroke-width="1.05" stroke-linejoin="round"/>
<path d="M628.50,396.1 V480.9" stroke="#000" stroke-width="1.5"/>
<rect x="625.40" y="409.30" width="6.2" height="40.60" fill="#80FFFF" stroke="#000" stroke-width="1.6"/>
<ellipse cx="628.50" cy="423.4" rx="2.9" ry="2.4" fill="#FF0000"/>
<path d="M77.2,461.34 H670" stroke="#FF0000" stroke-width="2.2" stroke-dasharray="7.3 5.42"/>
<path d="M76.5,286.6 H675.6 V502.5" fill="none" stroke="#000" stroke-width="1.5"/>
<path d="M76.5,285.90000000000003 V502.5" stroke="#000" stroke-width="2"/>
<path d="M68.0,502.50 H676.3000000000001" stroke="#000" stroke-width="2"/>
<path d="M68.2,306.50 H76.5" stroke="#000" stroke-width="1.6"/>
<text x="58.5" y="312.60" text-anchor="end" font-family='"Liberation Serif", serif' font-weight="bold" font-size="17">8000</text>
<path d="M68.2,345.70 H76.5" stroke="#000" stroke-width="1.6"/>
<text x="58.5" y="351.80" text-anchor="end" font-family='"Liberation Serif", serif' font-weight="bold" font-size="17">6000</text>
<path d="M68.2,384.90 H76.5" stroke="#000" stroke-width="1.6"/>
<text x="58.5" y="391.00" text-anchor="end" font-family='"Liberation Serif", serif' font-weight="bold" font-size="17">4000</text>
<path d="M68.2,424.10 H76.5" stroke="#000" stroke-width="1.6"/>
<text x="58.5" y="430.20" text-anchor="end" font-family='"Liberation Serif", serif' font-weight="bold" font-size="17">2000</text>
<path d="M68.2,463.30 H76.5" stroke="#000" stroke-width="1.6"/>
<text x="58.5" y="469.40" text-anchor="end" font-family='"Liberation Serif", serif' font-weight="bold" font-size="17">0</text>
<path d="M68.2,502.50 H76.5" stroke="#000" stroke-width="1.6"/>
<text x="58.5" y="508.60" text-anchor="end" font-family='"Liberation Serif", serif' font-weight="bold" font-size="17">-2000</text>
<path d="M113.94,502.50 V508.80" stroke="#000" stroke-width="1.6"/>
<path d="M160.75,502.50 V508.80" stroke="#000" stroke-width="1.6"/>
<path d="M207.55,502.50 V508.80" stroke="#000" stroke-width="1.6"/>
<path d="M254.36,502.50 V508.80" stroke="#000" stroke-width="1.6"/>
<path d="M301.16,502.50 V508.80" stroke="#000" stroke-width="1.6"/>
<path d="M347.97,502.50 V508.80" stroke="#000" stroke-width="1.6"/>
<path d="M394.77,502.50 V508.80" stroke="#000" stroke-width="1.6"/>
<path d="M441.58,502.50 V508.80" stroke="#000" stroke-width="1.6"/>
<path d="M488.38,502.50 V508.80" stroke="#000" stroke-width="1.6"/>
<path d="M535.19,502.50 V508.80" stroke="#000" stroke-width="1.6"/>
<path d="M581.99,502.50 V508.80" stroke="#000" stroke-width="1.6"/>
<path d="M628.80,502.50 V508.80" stroke="#000" stroke-width="1.6"/>
<path d="M675.60,502.50 V508.80" stroke="#000" stroke-width="1.6"/>
<text transform="translate(121.74,523.90) rotate(-45)" text-anchor="end" font-family='"Liberation Serif", serif' font-weight="bold" font-size="17">PY_m</text>
<text transform="translate(168.55,523.90) rotate(-45)" text-anchor="end" font-family='"Liberation Serif", serif' font-weight="bold" font-size="17">PY_m-p</text>
<text transform="translate(215.35,523.90) rotate(-45)" text-anchor="end" font-family='"Liberation Serif", serif' font-weight="bold" font-size="17">RY_m</text>
<text transform="translate(262.16,523.90) rotate(-45)" text-anchor="end" font-family='"Liberation Serif", serif' font-weight="bold" font-size="17">RY_m-p</text>
<text transform="translate(308.96,523.90) rotate(-45)" text-anchor="end" font-family='"Liberation Serif", serif' font-weight="bold" font-size="17">PY_r</text>
<text transform="translate(355.77,523.90) rotate(-45)" text-anchor="end" font-family='"Liberation Serif", serif' font-weight="bold" font-size="17">PY_r-p</text>
<text transform="translate(402.57,523.90) rotate(-45)" text-anchor="end" font-family='"Liberation Serif", serif' font-weight="bold" font-size="17">RY_r</text>
<text transform="translate(449.38,523.90) rotate(-45)" text-anchor="end" font-family='"Liberation Serif", serif' font-weight="bold" font-size="17">RY_r-p</text>
<text transform="translate(496.18,523.90) rotate(-45)" text-anchor="end" font-family='"Liberation Serif", serif' font-weight="bold" font-size="17">PY_w</text>
<text transform="translate(542.99,523.90) rotate(-45)" text-anchor="end" font-family='"Liberation Serif", serif' font-weight="bold" font-size="17">PY_w-p</text>
<text transform="translate(589.79,523.90) rotate(-45)" text-anchor="end" font-family='"Liberation Serif", serif' font-weight="bold" font-size="17">RY_w</text>
<text transform="translate(636.60,523.90) rotate(-45)" text-anchor="end" font-family='"Liberation Serif", serif' font-weight="bold" font-size="17">RY_w-p</text>
<text x="85.3" y="310.2" letter-spacing="0.15" font-family='"Liberation Serif", serif' font-weight="bold" font-size="19">(b) Economic return</text>
<text transform="translate(12.6,497.5) rotate(-90)" letter-spacing="-0.1" font-family='"Liberation Serif", serif' font-weight="bold" font-size="17">Economic return ($ ha<tspan dy="-6" font-size="11">-1</tspan><tspan dy="6">)</tspan></text>
</svg>
</body></html>
